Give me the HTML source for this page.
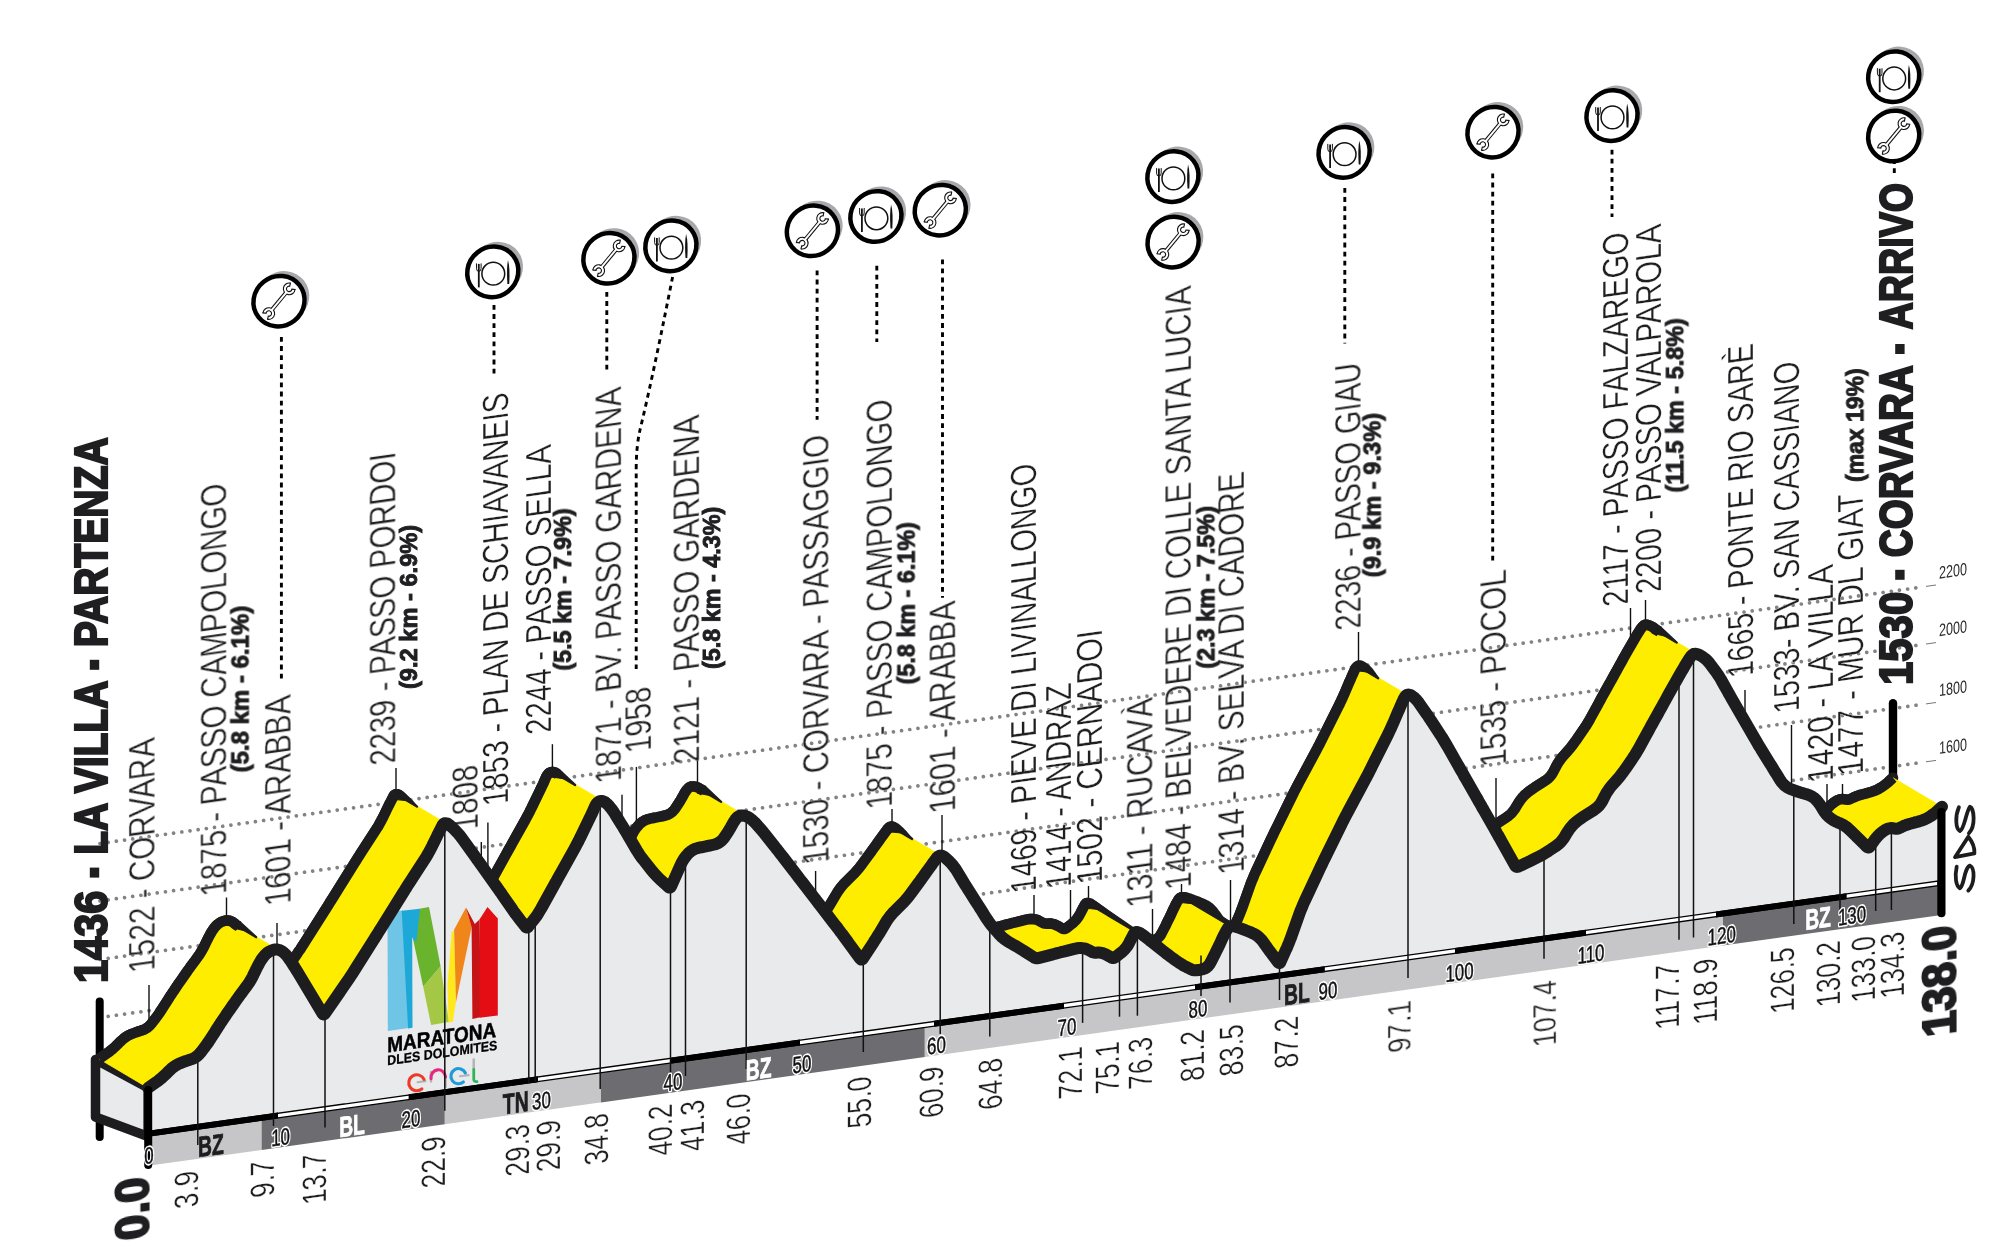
<!DOCTYPE html>
<html><head><meta charset="utf-8"><title>Maratona dles Dolomites</title>
<style>html,body{margin:0;padding:0;background:#fff}svg{display:block}text{font-family:"Liberation Sans",sans-serif}</style>
</head><body>
<svg width="2016" height="1260" viewBox="0 0 2016 1260">
<defs><filter id="nf" x="-5%" y="-5%" width="110%" height="110%"><feOffset dx="0" dy="0"/></filter></defs>
<rect width="2016" height="1260" fill="#fff"/>
<g stroke="#838385" stroke-width="3.7" stroke-dasharray="0.01 8.25" stroke-linecap="round" fill="none">
<line x1="100" y1="1017.5" x2="1922" y2="762.4"/>
<line x1="100" y1="959.5" x2="1922" y2="704.4"/>
<line x1="100" y1="901.0" x2="1922" y2="644.6"/>
<line x1="100" y1="843.5" x2="1922" y2="587.0"/>
</g>
<g stroke="#777" stroke-width="1" fill="none">
<line x1="1926" y1="761.8" x2="1936" y2="760.4"/>
<line x1="1926" y1="703.9" x2="1936" y2="702.5"/>
<line x1="1926" y1="644.0" x2="1936" y2="642.6"/>
<line x1="1926" y1="586.4" x2="1936" y2="585.0"/>
</g>
<g filter="url(#nf)">
<text transform="translate(1939,754.1) skewY(-8) scale(0.72,1)" font-size="17.5" fill="#2a2a2a">1600</text>
<text transform="translate(1939,696.2) skewY(-8) scale(0.72,1)" font-size="17.5" fill="#2a2a2a">1800</text>
<text transform="translate(1939,636.3) skewY(-8) scale(0.72,1)" font-size="17.5" fill="#2a2a2a">2000</text>
<text transform="translate(1939,578.7) skewY(-8) scale(0.72,1)" font-size="17.5" fill="#2a2a2a">2200</text>
</g>
<line x1="99.7" y1="1001.5" x2="99.7" y2="1137" stroke="#000" stroke-width="8" stroke-linecap="round"/>
<line x1="1893" y1="703.3" x2="1893" y2="780" stroke="#000" stroke-width="8.4" stroke-linecap="round"/>
<g stroke="#111" stroke-width="1.4" fill="none">
<line x1="149.0" y1="985.0" x2="149.0" y2="1026.9"/>
<line x1="226.5" y1="897.5" x2="226.5" y2="920.5"/>
<line x1="277.0" y1="923.0" x2="277.0" y2="983.2"/>
<line x1="396.0" y1="768.0" x2="396.0" y2="791.5"/>
<line x1="481.3" y1="842.0" x2="481.3" y2="895.2"/>
<line x1="487.9" y1="822.6" x2="487.9" y2="886.7"/>
<line x1="552.4" y1="744.2" x2="552.4" y2="771.9"/>
<line x1="622.0" y1="794.7" x2="622.0" y2="857.6"/>
<line x1="636.4" y1="766.9" x2="636.4" y2="827.5"/>
<line x1="697.5" y1="757.6" x2="697.5" y2="787.4"/>
<line x1="815.6" y1="871.0" x2="815.6" y2="927.0"/>
<line x1="892.0" y1="809.0" x2="892.0" y2="824.5"/>
<line x1="942.0" y1="815.0" x2="942.0" y2="895.9"/>
<line x1="1034.0" y1="895.0" x2="1034.0" y2="918.1"/>
<line x1="1070.5" y1="890.0" x2="1070.5" y2="924.9"/>
<line x1="1088.5" y1="886.0" x2="1088.5" y2="902.0"/>
<line x1="1152.5" y1="909.0" x2="1152.5" y2="940.5"/>
<line x1="1181.5" y1="884.0" x2="1181.5" y2="895.6"/>
<line x1="1230.5" y1="880.0" x2="1230.5" y2="935.2"/>
<line x1="1358.5" y1="632.0" x2="1358.5" y2="664.0"/>
<line x1="1496.0" y1="778.0" x2="1496.0" y2="824.4"/>
<line x1="1630.5" y1="608.0" x2="1630.5" y2="646.1"/>
<line x1="1645.5" y1="600.0" x2="1645.5" y2="624.0"/>
<line x1="1745.0" y1="690.0" x2="1745.0" y2="761.4"/>
<line x1="1791.5" y1="725.0" x2="1791.5" y2="794.5"/>
<line x1="1827.0" y1="784.0" x2="1827.0" y2="808.9"/>
<line x1="1842.5" y1="784.0" x2="1842.5" y2="799.0"/>
</g>
<g font-size="36.3" fill="#1d1d1f" stroke="#fff" stroke-width="0.3" opacity="0.99">
<text transform="translate(155.0,970.3) skewY(-7.97) rotate(-90)" textLength="233.6" lengthAdjust="spacingAndGlyphs">1522 - CORVARA</text>
<text transform="translate(226.7,893.8) skewY(-7.97) rotate(-90)" textLength="411.8" lengthAdjust="spacingAndGlyphs">1875 - PASSO CAMPOLONGO</text>
<text transform="translate(291.0,903.3) skewY(-7.97) rotate(-90)" textLength="209.5" lengthAdjust="spacingAndGlyphs">1601 - ARABBA</text>
<text transform="translate(395.7,762.9) skewY(-7.97) rotate(-90)" textLength="311.9" lengthAdjust="spacingAndGlyphs">2239 - PASSO PORDOI</text>
<text transform="translate(478.2,829.0) skewY(-7.97) rotate(-90)" textLength="65.2" lengthAdjust="spacingAndGlyphs">1808</text>
<text transform="translate(507.5,803.5) skewY(-7.97) rotate(-90)" textLength="412.1" lengthAdjust="spacingAndGlyphs">1853 - PLAN DE SCHIAVANEIS</text>
<text transform="translate(550.5,732.3) skewY(-7.97) rotate(-90)" textLength="288.5" lengthAdjust="spacingAndGlyphs">2244 - PASSO SELLA</text>
<text transform="translate(621.5,781.0) skewY(-7.97) rotate(-90)" textLength="395.0" lengthAdjust="spacingAndGlyphs">1871 - BV. PASSO GARDENA</text>
<text transform="translate(651.4,750.5) skewY(-7.97) rotate(-90)" textLength="65.0" lengthAdjust="spacingAndGlyphs">1958</text>
<text transform="translate(699.5,761.5) skewY(-7.97) rotate(-90)" textLength="347.5" lengthAdjust="spacingAndGlyphs">2121 - PASSO GARDENA</text>
<text transform="translate(828.9,862.2) skewY(-7.97) rotate(-90)" textLength="428.9" lengthAdjust="spacingAndGlyphs">1530 - CORVARA - PASSAGGIO</text>
<text transform="translate(892.4,806.7) skewY(-7.97) rotate(-90)" textLength="408.9" lengthAdjust="spacingAndGlyphs">1875 - PASSO CAMPOLONGO</text>
<text transform="translate(955.6,811.0) skewY(-7.97) rotate(-90)" textLength="211.0" lengthAdjust="spacingAndGlyphs">1601 - ARABBA</text>
<text transform="translate(1036.4,891.0) skewY(-7.97) rotate(-90)" textLength="428.8" lengthAdjust="spacingAndGlyphs">1469 - PIEVE DI LIVINALLONGO</text>
<text transform="translate(1071.3,886.7) skewY(-7.97) rotate(-90)" textLength="204.7" lengthAdjust="spacingAndGlyphs">1414 - ANDRAZ</text>
<text transform="translate(1102.0,882.0) skewY(-7.97) rotate(-90)" textLength="254.0" lengthAdjust="spacingAndGlyphs">1502 - CERNADOI</text>
<text transform="translate(1152.8,905.0) skewY(-7.97) rotate(-90)" textLength="208.3" lengthAdjust="spacingAndGlyphs">1311 - RUCAVÀ</text>
<text transform="translate(1191.4,887.2) skewY(-7.97) rotate(-90)" textLength="602.2" lengthAdjust="spacingAndGlyphs">1484 - BELVEDERE DI COLLE SANTA LUCIA</text>
<text transform="translate(1244.3,872.0) skewY(-7.97) rotate(-90)" textLength="401.5" lengthAdjust="spacingAndGlyphs">1314 - BV. SELVA DI CADORE</text>
<text transform="translate(1361.0,628.0) skewY(-7.97) rotate(-90)" textLength="266.7" lengthAdjust="spacingAndGlyphs">2236 - PASSO GIAU</text>
<text transform="translate(1506.4,764.3) skewY(-7.97) rotate(-90)" textLength="195.6" lengthAdjust="spacingAndGlyphs">1535 - POCOL</text>
<text transform="translate(1628.3,604.3) skewY(-7.97) rotate(-90)" textLength="373.5" lengthAdjust="spacingAndGlyphs">2117 - PASSO FALZAREGO</text>
<text transform="translate(1661.4,591.6) skewY(-7.97) rotate(-90)" textLength="368.4" lengthAdjust="spacingAndGlyphs">2200 - PASSO VALPAROLA</text>
<text transform="translate(1752.8,675.4) skewY(-7.97) rotate(-90)" textLength="332.8" lengthAdjust="spacingAndGlyphs">1665 - PONTE RIO SARÈ</text>
<text transform="translate(1798.6,711.0) skewY(-7.97) rotate(-90)" textLength="351.0" lengthAdjust="spacingAndGlyphs">1533- BV. SAN CASSIANO</text>
<text transform="translate(1832.7,780.8) skewY(-7.97) rotate(-90)" textLength="217.2" lengthAdjust="spacingAndGlyphs">1420 - LA VILLA</text>
<text transform="translate(1862.9,773.2) skewY(-7.97) rotate(-90)" textLength="281.9" lengthAdjust="spacingAndGlyphs">1477 - MUR DL GIAT</text>
</g>
<g font-size="23" font-weight="bold" fill="#1d1d1f" stroke="#1d1d1f" stroke-width="0.9" opacity="0.99">
<text transform="translate(248.5,772.4) rotate(-90)" textLength="166.7" lengthAdjust="spacingAndGlyphs">(5.8 km - 6.1%)</text>
<text transform="translate(417.0,689.0) rotate(-90)" textLength="164.2" lengthAdjust="spacingAndGlyphs">(9.2 km - 6.9%)</text>
<text transform="translate(571.0,670.6) rotate(-90)" textLength="162.3" lengthAdjust="spacingAndGlyphs">(5.5 km - 7.9%)</text>
<text transform="translate(720.0,669.0) rotate(-90)" textLength="162.4" lengthAdjust="spacingAndGlyphs">(5.8 km - 4.3%)</text>
<text transform="translate(914.6,684.4) rotate(-90)" textLength="162.2" lengthAdjust="spacingAndGlyphs">(5.8 km - 6.1%)</text>
<text transform="translate(1214.3,668.7) rotate(-90)" textLength="162.7" lengthAdjust="spacingAndGlyphs">(2.3 km - 7.5%)</text>
<text transform="translate(1380.5,577.3) rotate(-90)" textLength="164.3" lengthAdjust="spacingAndGlyphs">(9.9 km - 9.3%)</text>
<text transform="translate(1683.2,492.5) rotate(-90)" textLength="174.3" lengthAdjust="spacingAndGlyphs">(11.5 km - 5.8%)</text>
<text transform="translate(1863.3,482.0) rotate(-90)" textLength="113.7" lengthAdjust="spacingAndGlyphs">(max 19%)</text>
</g>
<polyline points="99.1,1058.9 106.9,1053.4 108.8,1052.1 110.6,1050.6 112.4,1049.2 114.2,1047.6 115.9,1046.1 117.5,1044.5 120.4,1041.6 122.0,1040.1 123.7,1038.6 125.5,1037.3 127.2,1036.2 129.0,1035.2 130.9,1034.3 130.9,1034.3 132.7,1033.6 134.6,1032.9 136.4,1032.2 138.2,1031.6 140.1,1031.0 141.9,1030.4 141.9,1030.4 143.8,1029.8 145.5,1028.9 147.2,1027.8 148.8,1026.5 150.3,1025.0 151.8,1023.3 154.3,1020.0 155.7,1018.2 157.1,1016.3 158.5,1014.4 159.8,1012.5 161.1,1010.5 162.3,1008.6 166.0,1002.9 167.2,1000.9 168.5,999.0 169.7,997.0 171.0,995.1 172.3,993.1 173.6,991.2 175.4,988.5 176.7,986.6 178.0,984.6 179.3,982.7 180.7,980.8 182.0,978.9 183.3,977.0 186.4,972.6 187.7,970.7 189.1,968.8 190.4,966.9 191.8,965.0 193.2,963.2 194.6,961.3 197.3,957.6 198.7,955.7 200.0,953.8 201.2,951.8 202.4,949.8 203.5,947.8 204.5,945.7 206.4,941.8 207.4,939.7 208.4,937.8 209.4,935.9 210.4,934.0 211.4,932.3 212.4,930.6 212.4,930.6 213.5,929.1 214.5,927.7 215.6,926.5 216.6,925.3 217.7,924.4 218.8,923.5 218.8,923.5 219.8,922.8 220.9,922.2 222.1,921.7 223.2,921.3 224.3,920.9 225.5,920.6 225.5,920.6 226.7,920.5 227.8,920.5 229.0,920.7 230.2,921.0 231.3,921.4 232.5,922.0 232.5,922.0 233.7,922.8 234.8,923.7 236.0,924.8 237.2,926.0 238.3,927.4 239.5,929.0 239.5,929.0 240.7,930.7 241.9,932.4 243.0,934.2 244.2,936.1 245.5,938.0 246.7,940.0 247.3,941.0 248.6,943.0 249.8,945.0 251.0,947.0 252.2,949.0 253.4,951.0 254.6,953.0 273.4,984.4 273.8,985.0 274.3,985.3 274.7,985.4 275.2,985.3 275.6,985.0 276.1,984.4 297.6,953.2 298.9,951.2 300.3,949.3 301.5,947.4 302.8,945.4 304.1,943.4 305.3,941.5 325.3,909.9 326.5,907.9 327.8,906.0 329.0,904.0 330.2,902.0 331.5,900.0 332.7,898.1 354.3,863.5 355.5,861.6 356.8,859.6 358.0,857.6 359.3,855.6 360.5,853.7 361.8,851.7 376.2,829.4 377.5,827.4 378.7,825.4 379.8,823.4 380.9,821.4 382.0,819.3 383.1,817.2 387.9,807.3 388.9,805.2 389.9,803.3 390.9,801.4 391.8,799.6 392.7,797.9 393.5,796.2 393.5,796.2 394.4,795.0 395.6,794.3 396.9,794.2 398.5,794.6 400.2,795.7 402.1,797.4 404.3,799.5 406.0,801.1 407.6,802.8 409.2,804.5 410.7,806.3 412.1,808.1 413.5,810.0 425.2,826.3 426.6,828.2 427.9,830.1 429.3,832.0 430.7,833.9 432.0,835.8 433.4,837.7 445.0,854.1 446.4,856.0 447.7,857.9 449.1,859.8 450.4,861.7 451.8,863.6 453.1,865.6 463.0,879.8 464.3,881.8 465.7,883.7 467.1,885.5 468.5,887.4 469.9,889.3 471.3,891.1 476.4,897.5 476.9,898.1 477.4,898.4 477.9,898.5 478.4,898.4 478.9,898.1 479.4,897.5 484.5,891.1 485.9,889.3 487.3,887.4 488.6,885.4 489.8,883.5 491.0,881.5 492.2,879.5 505.2,856.0 506.3,854.0 507.5,851.9 508.6,849.9 509.7,847.9 510.9,845.8 512.0,843.8 525.1,820.3 526.2,818.3 527.3,816.2 528.4,814.2 529.5,812.1 530.5,810.0 531.6,807.9 539.9,790.7 540.9,788.6 541.9,786.5 542.9,784.5 543.8,782.5 544.7,780.4 545.5,778.5 545.5,778.5 546.4,776.6 547.3,775.1 548.2,773.9 549.3,772.9 550.4,772.3 551.5,772.0 551.5,772.0 552.7,772.0 553.9,772.2 555.1,772.6 556.3,773.3 557.5,774.3 558.8,775.5 558.8,775.5 560.1,776.9 561.3,778.4 562.6,780.0 563.8,781.7 565.0,783.5 566.3,785.5 572.8,796.1 574.1,798.1 575.3,800.1 576.5,802.1 577.7,804.1 578.8,806.1 580.0,808.1 586.9,819.9 588.1,821.9 589.3,823.8 590.6,825.8 591.9,827.7 593.3,829.5 594.8,831.4 601.8,840.3 603.3,842.1 604.8,843.9 606.4,845.6 608.0,847.3 609.6,849.0 611.3,850.6 619.3,857.9 619.9,858.4 620.4,858.6 620.9,858.6 621.3,858.4 621.8,858.0 622.1,857.3 631.6,836.0 632.6,833.9 633.7,831.9 634.9,830.0 636.2,828.1 637.6,826.4 639.1,824.7 639.1,824.7 640.7,823.2 642.5,821.8 644.3,820.7 646.3,819.8 648.5,819.1 650.7,818.5 652.3,818.3 654.6,817.8 656.8,817.4 659.0,816.9 661.2,816.5 663.3,816.0 665.4,815.5 665.4,815.5 667.4,814.9 669.3,814.0 671.0,812.9 672.6,811.6 674.1,810.0 675.5,808.2 676.6,806.5 677.9,804.6 679.1,802.7 680.3,800.8 681.4,798.9 682.5,797.0 683.5,795.1 683.5,795.1 684.5,793.3 685.5,791.8 686.4,790.4 687.4,789.3 688.3,788.3 689.2,787.5 689.2,787.5 690.2,787.0 691.3,786.6 692.4,786.5 693.7,786.5 695.0,786.7 696.5,787.0 696.5,787.0 698.0,787.6 699.5,788.4 701.1,789.4 702.6,790.6 704.2,792.0 705.8,793.6 706.2,793.9 707.8,795.6 709.3,797.4 710.9,799.1 712.4,800.9 713.9,802.7 715.4,804.5 724.9,816.5 726.4,818.4 727.8,820.2 729.3,822.0 730.7,823.9 732.1,825.7 733.6,827.5 744.8,842.2 746.3,844.0 747.7,845.9 749.1,847.7 750.5,849.6 751.9,851.4 753.4,853.3 764.6,867.9 766.1,869.8 767.5,871.6 768.9,873.5 770.3,875.3 771.8,877.2 773.2,879.0 784.5,893.8 785.9,895.6 787.4,897.5 788.8,899.3 790.2,901.2 791.6,903.1 793.0,904.9 811.1,929.6 811.6,930.1 812.1,930.5 812.6,930.6 813.0,930.4 813.5,930.1 814.0,929.5 824.7,913.2 825.9,911.2 827.2,909.2 828.4,907.3 829.7,905.3 830.9,903.3 832.1,901.3 836.8,893.4 838.0,891.4 839.4,889.5 840.7,887.7 842.2,885.9 843.7,884.1 845.3,882.5 853.3,874.5 854.9,872.9 856.5,871.2 858.0,869.4 859.5,867.6 860.9,865.8 862.3,863.9 870.0,853.4 871.4,851.5 872.7,849.6 874.1,847.7 875.5,845.8 876.8,843.9 878.2,842.0 879.9,839.6 881.3,837.7 882.6,835.9 883.9,834.1 885.2,832.3 886.5,830.6 887.7,828.9 887.7,828.9 889.0,827.5 890.4,826.8 892.0,826.6 893.7,827.1 895.6,828.1 897.5,829.8 899.5,831.7 901.2,833.3 902.8,835.0 904.2,836.8 905.6,838.6 907.0,840.5 908.2,842.5 912.9,850.3 914.1,852.3 915.3,854.3 916.5,856.3 917.8,858.3 919.0,860.2 920.3,862.2 926.6,872.2 927.9,874.2 929.1,876.1 930.4,878.1 931.6,880.1 932.9,882.1 934.1,884.0 936.6,888.1 937.9,890.0 939.2,891.9 940.5,893.8 941.9,895.7 943.4,897.5 944.9,899.3 949.6,904.6 951.2,906.3 952.8,907.9 954.6,909.4 956.4,910.8 958.3,912.1 960.3,913.3 963.9,915.4 965.9,916.5 967.9,917.7 969.9,918.9 971.9,920.1 973.9,921.3 975.9,922.6 984.8,928.3 985.5,928.7 986.2,929.0 987.0,929.2 987.7,929.3 988.5,929.2 989.3,929.1 1002.9,925.6 1005.2,925.0 1007.4,924.4 1009.7,923.8 1012.0,923.2 1014.2,922.7 1016.5,922.1 1025.3,919.9 1027.9,919.3 1030.4,919.1 1032.8,919.1 1035.0,919.4 1037.1,919.9 1039.0,920.8 1042.3,922.6 1043.0,923.0 1043.8,923.3 1044.6,923.5 1045.4,923.6 1046.2,923.7 1047.0,923.7 1049.0,923.6 1050.5,923.6 1052.0,923.8 1053.7,924.2 1055.3,924.8 1057.1,925.6 1058.8,926.5 1062.1,928.4 1062.9,928.8 1063.6,929.0 1064.3,929.0 1064.9,928.9 1065.6,928.6 1066.3,928.2 1071.6,924.1 1073.4,922.6 1075.1,921.0 1076.5,919.4 1077.9,917.6 1079.1,915.8 1080.2,913.8 1080.2,913.8 1081.1,911.9 1082.0,910.2 1082.9,908.5 1083.7,907.0 1084.4,905.7 1085.1,904.5 1085.1,904.5 1085.9,903.5 1086.9,903.0 1088.1,903.0 1089.5,903.4 1091.2,904.2 1093.0,905.5 1093.4,905.7 1095.3,907.1 1097.1,908.5 1099.0,909.9 1100.8,911.4 1102.6,912.8 1104.5,914.3 1113.4,921.4 1115.3,922.9 1117.1,924.3 1119.0,925.7 1120.8,927.1 1122.7,928.5 1124.6,929.9 1127.0,931.6 1128.9,932.9 1130.8,934.2 1132.8,935.4 1134.7,936.6 1136.7,937.6 1138.7,938.7 1142.5,940.5 1143.2,940.8 1144.0,941.1 1144.8,941.2 1145.6,941.3 1146.4,941.3 1147.2,941.3 1151.6,940.7 1153.8,940.2 1155.8,939.4 1157.6,938.4 1159.1,937.0 1160.5,935.4 1161.6,933.4 1165.4,926.1 1166.4,924.0 1167.4,921.9 1168.5,919.8 1169.5,917.7 1170.5,915.6 1171.5,913.5 1173.4,909.3 1174.4,907.3 1175.3,905.4 1176.3,903.6 1177.1,902.0 1178.0,900.6 1178.8,899.2 1178.8,899.2 1179.8,898.2 1181.0,897.5 1182.6,897.2 1184.5,897.2 1186.7,897.7 1189.2,898.5 1194.2,900.4 1196.4,901.2 1198.4,902.0 1200.4,902.8 1202.2,903.6 1204.0,904.4 1205.6,905.2 1205.6,905.2 1207.2,906.1 1208.7,907.2 1210.2,908.4 1211.7,909.9 1213.1,911.5 1214.4,913.3 1215.0,914.1 1216.3,916.0 1217.7,917.9 1219.0,919.8 1220.4,921.7 1221.8,923.5 1223.2,925.4 1229.0,933.2 1229.5,933.7 1229.9,934.1 1230.4,934.1 1230.8,934.0 1231.2,933.6 1231.5,932.9 1237.1,920.4 1238.1,918.3 1239.0,916.1 1239.9,913.9 1240.7,911.8 1241.6,909.6 1242.4,907.4 1250.6,884.3 1251.4,882.1 1252.3,879.9 1253.2,877.8 1254.1,875.6 1255.0,873.5 1256.0,871.4 1271.0,839.3 1272.0,837.2 1273.0,835.1 1274.0,833.0 1275.0,830.9 1276.1,828.8 1277.1,826.7 1292.6,795.1 1293.6,793.0 1294.7,790.9 1295.8,788.8 1296.8,786.8 1297.9,784.7 1299.0,782.6 1316.4,750.2 1317.5,748.1 1318.6,746.0 1319.7,744.0 1320.7,741.9 1321.8,739.8 1322.8,737.7 1338.6,706.2 1339.6,704.1 1340.6,702.0 1341.6,699.9 1342.6,697.7 1343.5,695.6 1344.5,693.5 1349.2,682.4 1350.2,680.3 1351.1,678.2 1352.0,676.0 1353.0,673.9 1353.9,671.8 1354.8,669.8 1354.8,669.8 1355.9,667.9 1357.0,666.6 1358.2,665.8 1359.4,665.5 1360.8,665.8 1362.3,666.5 1362.3,666.5 1363.9,667.6 1365.4,668.8 1366.8,670.2 1368.2,671.7 1369.6,673.4 1370.9,675.3 1377.1,684.2 1378.4,686.1 1379.7,688.1 1381.0,690.0 1382.3,692.0 1383.6,693.9 1384.8,695.8 1391.0,705.2 1392.2,707.1 1393.5,709.1 1394.7,711.1 1395.9,713.1 1397.1,715.1 1398.3,717.1 1409.5,736.9 1410.7,738.9 1411.8,741.0 1413.0,743.0 1414.2,745.0 1415.3,747.1 1416.5,749.1 1427.5,768.4 1428.7,770.4 1429.8,772.5 1431.0,774.5 1432.2,776.5 1433.3,778.6 1434.5,780.6 1445.5,799.9 1446.7,801.9 1447.8,804.0 1449.0,806.0 1450.1,808.0 1451.3,810.1 1452.4,812.1 1466.0,836.4 1466.4,837.1 1466.9,837.5 1467.5,837.8 1468.1,837.9 1468.7,837.8 1469.5,837.6 1471.0,836.9 1472.3,836.3 1473.7,835.6 1475.3,834.8 1477.1,834.0 1478.9,833.1 1481.0,832.1 1488.3,828.4 1490.4,827.4 1492.5,826.3 1494.5,825.1 1496.5,823.9 1498.5,822.7 1500.4,821.4 1506.6,817.3 1508.5,815.9 1510.2,814.5 1511.8,812.9 1513.3,811.1 1514.7,809.3 1515.9,807.3 1516.9,805.6 1518.1,803.6 1519.3,801.8 1520.5,800.0 1521.8,798.4 1523.0,796.9 1524.3,795.6 1524.3,795.5 1525.7,794.2 1527.2,792.9 1528.8,791.6 1530.5,790.4 1532.3,789.1 1534.2,787.8 1544.8,781.1 1546.7,779.7 1548.4,778.3 1550.0,776.7 1551.4,774.9 1552.7,773.0 1553.8,771.0 1555.4,767.8 1556.5,765.7 1557.6,763.7 1558.9,761.8 1560.2,759.9 1561.6,758.0 1563.1,756.2 1567.9,750.9 1569.4,749.1 1570.9,747.3 1572.3,745.5 1573.7,743.6 1575.1,741.7 1576.5,739.8 1583.5,729.6 1584.8,727.6 1586.1,725.7 1587.3,723.7 1588.5,721.7 1589.7,719.7 1590.8,717.6 1598.2,704.2 1599.3,702.1 1600.4,700.1 1601.5,698.0 1602.6,696.0 1603.8,693.9 1604.9,691.9 1609.2,684.2 1610.3,682.2 1611.5,680.1 1612.6,678.1 1613.7,676.1 1614.8,674.0 1616.0,672.0 1620.1,664.4 1621.3,662.4 1622.4,660.4 1623.5,658.3 1624.7,656.3 1625.8,654.3 1627.0,652.2 1632.5,642.6 1633.7,640.6 1634.8,638.7 1635.8,636.9 1636.8,635.2 1637.8,633.5 1638.8,632.0 1638.8,632.0 1639.7,630.6 1640.5,629.3 1641.4,628.1 1642.2,627.1 1643.0,626.3 1643.8,625.5 1643.8,625.5 1644.6,625.0 1645.6,624.8 1646.8,624.8 1648.2,625.1 1649.8,625.7 1651.5,626.5 1651.5,626.5 1653.3,627.6 1655.0,628.8 1656.7,630.2 1658.3,631.7 1659.8,633.3 1661.2,635.1 1665.5,640.8 1666.9,642.7 1668.2,644.6 1669.5,646.5 1670.8,648.5 1672.0,650.5 1673.1,652.5 1676.3,658.2 1677.4,660.2 1678.6,662.3 1679.7,664.3 1680.9,666.3 1682.0,668.3 1683.2,670.4 1705.9,709.7 1707.1,711.8 1708.3,713.8 1709.4,715.8 1710.6,717.8 1711.9,719.8 1713.1,721.8 1721.6,735.6 1722.9,737.6 1724.1,739.6 1725.3,741.6 1726.5,743.6 1727.8,745.6 1729.0,747.5 1731.5,751.6 1732.8,753.4 1734.3,755.1 1735.9,756.7 1737.7,758.0 1739.6,759.1 1741.7,760.1 1742.6,760.4 1744.8,761.3 1747.0,762.0 1749.2,762.8 1751.4,763.5 1753.6,764.1 1755.8,764.8 1755.8,764.8 1758.0,765.4 1760.0,766.1 1761.8,766.9 1763.4,767.8 1764.8,768.7 1766.1,769.8 1766.1,769.8 1767.3,771.0 1768.4,772.3 1769.6,773.8 1770.8,775.4 1771.9,777.2 1773.1,779.2 1773.1,779.2 1774.3,781.2 1775.5,783.0 1776.8,784.7 1778.1,786.2 1779.5,787.6 1780.9,788.8 1780.9,788.8 1782.4,789.9 1784.0,791.0 1785.5,791.9 1787.2,792.7 1788.8,793.5 1790.5,794.1 1790.5,794.1 1792.3,794.9 1794.0,795.7 1795.7,796.8 1797.4,798.0 1799.1,799.4 1800.8,800.9 1804.7,804.8 1806.4,806.4 1808.0,808.1 1809.7,809.7 1811.3,811.3 1813.0,813.0 1814.6,814.6 1817.7,817.7 1818.3,818.2 1818.9,818.5 1819.4,818.5 1819.9,818.4 1820.5,818.0 1820.9,817.5 1824.9,811.9 1826.2,810.1 1827.7,808.3 1829.2,806.7 1830.8,805.1 1832.4,803.7 1834.2,802.3 1834.2,802.3 1835.9,801.1 1837.6,800.2 1839.2,799.6 1840.8,799.2 1842.3,799.1 1843.8,799.2 1845.7,799.6 1846.6,799.7 1847.4,799.8 1848.1,799.7 1848.9,799.6 1849.7,799.3 1850.4,799.0 1852.6,798.0 1854.0,797.3 1855.6,796.6 1857.1,796.0 1858.8,795.4 1860.4,794.9 1862.2,794.5 1862.2,794.5 1863.9,794.0 1865.6,793.6 1867.2,793.1 1868.8,792.7 1870.3,792.2 1871.8,791.8 1871.8,791.8 1873.2,791.3 1874.7,790.8 1876.1,790.2 1877.5,789.5 1879.0,788.7 1880.4,787.9 1880.4,787.9 1881.9,787.0 1883.3,786.0 1884.7,785.0 1886.1,783.9 1887.5,782.8 1888.9,781.5 1893.0,777.8" fill="none" stroke="#1d1d1f" stroke-width="10.6" stroke-linejoin="round" stroke-linecap="round"/>
<polygon points="148.1,1087.9 95.5,1059.5 95.5,1117.0 148.1,1136.5" fill="#e9eaec" stroke="#1d1d1f" stroke-width="9.5" stroke-linejoin="round"/>
<polygon points="148.1,1087.9 155.9,1082.4 157.8,1081.1 159.6,1079.6 161.4,1078.2 163.2,1076.6 164.9,1075.1 166.5,1073.5 169.4,1070.6 171.0,1069.1 172.7,1067.6 174.5,1066.3 176.2,1065.2 178.0,1064.2 179.9,1063.3 179.9,1063.3 181.7,1062.6 183.6,1061.9 185.4,1061.2 187.2,1060.6 189.1,1060.0 190.9,1059.4 190.9,1059.4 192.8,1058.8 194.5,1057.9 196.2,1056.8 197.8,1055.5 199.3,1054.0 200.8,1052.3 203.3,1049.0 204.7,1047.2 206.1,1045.3 207.5,1043.4 208.8,1041.5 210.1,1039.5 211.3,1037.6 215.0,1031.9 216.2,1029.9 217.5,1028.0 218.7,1026.0 220.0,1024.1 221.3,1022.1 222.6,1020.2 224.4,1017.5 225.7,1015.6 227.0,1013.6 228.3,1011.7 229.7,1009.8 231.0,1007.9 232.3,1006.0 235.4,1001.6 236.7,999.7 238.1,997.8 239.4,995.9 240.8,994.0 242.2,992.2 243.6,990.3 246.3,986.6 247.7,984.7 249.0,982.8 250.2,980.8 251.4,978.8 252.5,976.8 253.5,974.7 255.4,970.8 256.4,968.7 257.4,966.8 258.4,964.9 259.4,963.0 260.4,961.3 261.4,959.6 261.4,959.6 262.5,958.1 263.5,956.7 264.6,955.5 265.6,954.3 266.7,953.4 267.8,952.5 267.8,952.5 268.8,951.8 269.9,951.2 271.1,950.7 272.2,950.3 273.3,949.9 274.5,949.6 274.5,949.6 275.7,949.5 276.8,949.5 278.0,949.7 279.2,950.0 280.3,950.4 281.5,951.0 281.5,951.0 282.7,951.8 283.8,952.7 285.0,953.8 236.0,924.8 234.8,923.7 233.7,922.8 232.5,922.0 232.5,922.0 231.3,921.4 230.2,921.0 229.0,920.7 227.8,920.5 226.7,920.5 225.5,920.6 225.5,920.6 224.3,920.9 223.2,921.3 222.1,921.7 220.9,922.2 219.8,922.8 218.8,923.5 218.8,923.5 217.7,924.4 216.6,925.3 215.6,926.5 214.5,927.7 213.5,929.1 212.4,930.6 212.4,930.6 211.4,932.3 210.4,934.0 209.4,935.9 208.4,937.8 207.4,939.7 206.4,941.8 204.5,945.7 203.5,947.8 202.4,949.8 201.2,951.8 200.0,953.8 198.7,955.7 197.3,957.6 194.6,961.3 193.2,963.2 191.8,965.0 190.4,966.9 189.1,968.8 187.7,970.7 186.4,972.6 183.3,977.0 182.0,978.9 180.7,980.8 179.3,982.7 178.0,984.6 176.7,986.6 175.4,988.5 173.6,991.2 172.3,993.1 171.0,995.1 169.7,997.0 168.5,999.0 167.2,1000.9 166.0,1002.9 162.3,1008.6 161.1,1010.5 159.8,1012.5 158.5,1014.4 157.1,1016.3 155.7,1018.2 154.3,1020.0 151.8,1023.3 150.3,1025.0 148.8,1026.5 147.2,1027.8 145.5,1028.9 143.8,1029.8 141.9,1030.4 141.9,1030.4 140.1,1031.0 138.2,1031.6 136.4,1032.2 134.6,1032.9 132.7,1033.6 130.9,1034.3 130.9,1034.3 129.0,1035.2 127.2,1036.2 125.5,1037.3 123.7,1038.6 122.0,1040.1 120.4,1041.6 117.5,1044.5 115.9,1046.1 114.2,1047.6 112.4,1049.2 110.6,1050.6 108.8,1052.1 106.9,1053.4 99.1,1058.9" fill="#ffed00" stroke="#ffed00" stroke-width="0.8" stroke-linejoin="round"/>
<polygon points="324.2,1014.3 324.6,1014.0 325.1,1013.4 346.6,982.2 347.9,980.2 349.3,978.3 350.5,976.4 351.8,974.4 353.1,972.4 354.3,970.5 374.3,938.9 375.5,936.9 376.8,935.0 378.0,933.0 379.2,931.0 380.5,929.0 381.7,927.1 403.3,892.5 404.5,890.6 405.8,888.6 407.0,886.6 408.3,884.6 409.5,882.7 410.8,880.7 425.2,858.4 426.5,856.4 427.7,854.4 428.8,852.4 429.9,850.4 431.0,848.3 432.1,846.2 436.9,836.3 437.9,834.2 438.9,832.3 439.9,830.4 440.8,828.6 441.7,826.9 442.5,825.2 442.5,825.2 443.4,824.0 444.6,823.3 445.9,823.2 396.9,794.2 395.6,794.3 394.4,795.0 393.5,796.2 393.5,796.2 392.7,797.9 391.8,799.6 390.9,801.4 389.9,803.3 388.9,805.2 387.9,807.3 383.1,817.2 382.0,819.3 380.9,821.4 379.8,823.4 378.7,825.4 377.5,827.4 376.2,829.4 361.8,851.7 360.5,853.7 359.3,855.6 358.0,857.6 356.8,859.6 355.5,861.6 354.3,863.5 332.7,898.1 331.5,900.0 330.2,902.0 329.0,904.0 327.8,906.0 326.5,907.9 325.3,909.9 305.3,941.5 304.1,943.4 302.8,945.4 301.5,947.4 300.3,949.3 298.9,951.2 297.6,953.2 276.1,984.4 275.6,985.0 275.2,985.3" fill="#ffed00" stroke="#ffed00" stroke-width="0.8" stroke-linejoin="round"/>
<polygon points="527.4,927.4 527.9,927.1 528.4,926.5 533.5,920.1 534.9,918.3 536.3,916.4 537.6,914.4 538.8,912.5 540.0,910.5 541.2,908.5 554.2,885.0 555.3,883.0 556.5,880.9 557.6,878.9 558.7,876.9 559.9,874.8 561.0,872.8 574.1,849.3 575.2,847.3 576.3,845.2 577.4,843.2 578.5,841.1 579.5,839.0 580.6,836.9 588.9,819.7 589.9,817.6 590.9,815.5 591.9,813.5 592.8,811.5 593.7,809.4 594.5,807.5 594.5,807.5 595.4,805.6 596.3,804.1 597.2,802.9 598.3,801.9 599.4,801.3 600.5,801.0 600.5,801.0 601.7,801.0 602.9,801.2 604.1,801.6 555.1,772.6 553.9,772.2 552.7,772.0 551.5,772.0 551.5,772.0 550.4,772.3 549.3,772.9 548.2,773.9 547.3,775.1 546.4,776.6 545.5,778.5 545.5,778.5 544.7,780.4 543.8,782.5 542.9,784.5 541.9,786.5 540.9,788.6 539.9,790.7 531.6,807.9 530.5,810.0 529.5,812.1 528.4,814.2 527.3,816.2 526.2,818.3 525.1,820.3 512.0,843.8 510.9,845.8 509.7,847.9 508.6,849.9 507.5,851.9 506.3,854.0 505.2,856.0 492.2,879.5 491.0,881.5 489.8,883.5 488.6,885.4 487.3,887.4 485.9,889.3 484.5,891.1 479.4,897.5 478.9,898.1 478.4,898.4" fill="#ffed00" stroke="#ffed00" stroke-width="0.8" stroke-linejoin="round"/>
<polygon points="670.3,887.4 670.8,887.0 671.1,886.3 680.6,865.0 681.6,862.9 682.7,860.9 683.9,859.0 685.2,857.1 686.6,855.4 688.1,853.7 688.1,853.7 689.7,852.2 691.5,850.8 693.3,849.7 695.3,848.8 697.5,848.1 699.7,847.5 701.3,847.3 703.6,846.8 705.8,846.4 708.0,845.9 710.2,845.5 712.3,845.0 714.4,844.5 714.4,844.5 716.4,843.9 718.3,843.0 720.0,841.9 721.6,840.6 723.1,839.0 724.5,837.2 725.6,835.5 726.9,833.6 728.1,831.7 729.3,829.8 730.4,827.9 731.5,826.0 732.5,824.1 732.5,824.1 733.5,822.3 734.5,820.8 735.4,819.4 736.4,818.3 737.3,817.3 738.2,816.5 738.2,816.5 739.2,816.0 740.3,815.6 741.4,815.5 742.7,815.5 744.0,815.7 745.5,816.0 745.5,816.0 747.0,816.6 748.5,817.4 750.1,818.4 701.1,789.4 699.5,788.4 698.0,787.6 696.5,787.0 696.5,787.0 695.0,786.7 693.7,786.5 692.4,786.5 691.3,786.6 690.2,787.0 689.2,787.5 689.2,787.5 688.3,788.3 687.4,789.3 686.4,790.4 685.5,791.8 684.5,793.3 683.5,795.1 683.5,795.1 682.5,797.0 681.4,798.9 680.3,800.8 679.1,802.7 677.9,804.6 676.6,806.5 675.5,808.2 674.1,810.0 672.6,811.6 671.0,812.9 669.3,814.0 667.4,814.9 665.4,815.5 665.4,815.5 663.3,816.0 661.2,816.5 659.0,816.9 656.8,817.4 654.6,817.8 652.3,818.3 650.7,818.5 648.5,819.1 646.3,819.8 644.3,820.7 642.5,821.8 640.7,823.2 639.1,824.7 639.1,824.7 637.6,826.4 636.2,828.1 634.9,830.0 633.7,831.9 632.6,833.9 631.6,836.0 622.1,857.3 621.8,858.0 621.3,858.4" fill="#ffed00" stroke="#ffed00" stroke-width="0.8" stroke-linejoin="round"/>
<polygon points="862.0,959.4 862.5,959.1 863.0,958.5 873.7,942.2 874.9,940.2 876.2,938.2 877.4,936.3 878.7,934.3 879.9,932.3 881.1,930.3 885.8,922.4 887.0,920.4 888.4,918.5 889.7,916.7 891.2,914.9 892.7,913.1 894.3,911.5 902.3,903.5 903.9,901.9 905.5,900.2 907.0,898.4 908.5,896.6 909.9,894.8 911.3,892.9 919.0,882.4 920.4,880.5 921.7,878.6 923.1,876.7 924.5,874.8 925.8,872.9 927.2,871.0 928.9,868.6 930.3,866.7 931.6,864.9 932.9,863.1 934.2,861.3 935.5,859.6 936.7,857.9 936.7,857.9 938.0,856.5 939.4,855.8 941.0,855.6 892.0,826.6 890.4,826.8 889.0,827.5 887.7,828.9 887.7,828.9 886.5,830.6 885.2,832.3 883.9,834.1 882.6,835.9 881.3,837.7 879.9,839.6 878.2,842.0 876.8,843.9 875.5,845.8 874.1,847.7 872.7,849.6 871.4,851.5 870.0,853.4 862.3,863.9 860.9,865.8 859.5,867.6 858.0,869.4 856.5,871.2 854.9,872.9 853.3,874.5 845.3,882.5 843.7,884.1 842.2,885.9 840.7,887.7 839.4,889.5 838.0,891.4 836.8,893.4 832.1,901.3 830.9,903.3 829.7,905.3 828.4,907.3 827.2,909.2 825.9,911.2 824.7,913.2 814.0,929.5 813.5,930.1 813.0,930.4" fill="#ffed00" stroke="#ffed00" stroke-width="0.8" stroke-linejoin="round"/>
<polygon points="1005.4,939.8 1007.3,941.1 1009.3,942.3 1012.9,944.4 1014.9,945.5 1016.9,946.7 1018.9,947.9 969.9,918.9 967.9,917.7 965.9,916.5 963.9,915.4 960.3,913.3 958.3,912.1 956.4,910.8" fill="#ffed00" stroke="#ffed00" stroke-width="0.8" stroke-linejoin="round"/>
<polygon points="1036.7,958.3 1037.5,958.2 1038.3,958.1 1051.9,954.6 1054.2,954.0 1056.4,953.4 1058.7,952.8 1061.0,952.2 1063.2,951.7 1065.5,951.1 1074.3,948.9 1076.9,948.3 1079.4,948.1 1081.8,948.1 1084.0,948.4 1086.1,948.9 1088.0,949.8 1091.3,951.6 1092.0,952.0 1092.8,952.3 1093.6,952.5 1094.4,952.6 1095.2,952.7 1096.0,952.7 1098.0,952.6 1099.5,952.6 1101.0,952.8 1102.7,953.2 1104.3,953.8 1106.1,954.6 1107.8,955.5 1111.1,957.4 1111.9,957.8 1112.6,958.0 1113.3,958.0 1113.9,957.9 1114.6,957.6 1115.3,957.2 1120.6,953.1 1122.4,951.6 1124.1,950.0 1125.5,948.4 1126.9,946.6 1128.1,944.8 1129.2,942.8 1129.2,942.8 1130.1,940.9 1131.0,939.2 1131.9,937.5 1132.7,936.0 1133.4,934.7 1134.1,933.5 1134.1,933.5 1134.9,932.5 1135.9,932.0 1137.1,932.0 1088.1,903.0 1086.9,903.0 1085.9,903.5 1085.1,904.5 1085.1,904.5 1084.4,905.7 1083.7,907.0 1082.9,908.5 1082.0,910.2 1081.1,911.9 1080.2,913.8 1080.2,913.8 1079.1,915.8 1077.9,917.6 1076.5,919.4 1075.1,921.0 1073.4,922.6 1071.6,924.1 1066.3,928.2 1065.6,928.6 1064.9,928.9 1064.3,929.0 1063.6,929.0 1062.9,928.8 1062.1,928.4 1058.8,926.5 1057.1,925.6 1055.3,924.8 1053.7,924.2 1052.0,923.8 1050.5,923.6 1049.0,923.6 1047.0,923.7 1046.2,923.7 1045.4,923.6 1044.6,923.5 1043.8,923.3 1043.0,923.0 1042.3,922.6 1039.0,920.8 1037.1,919.9 1035.0,919.4 1032.8,919.1 1030.4,919.1 1027.9,919.3 1025.3,919.9 1016.5,922.1 1014.2,922.7 1012.0,923.2 1009.7,923.8 1007.4,924.4 1005.2,925.0 1002.9,925.6 989.3,929.1 988.5,929.2 987.7,929.3" fill="#ffed00" stroke="#ffed00" stroke-width="0.8" stroke-linejoin="round"/>
<polygon points="1183.7,965.6 1185.7,966.6 1187.7,967.7 1191.5,969.5 1192.2,969.8 1193.0,970.1 1193.8,970.2 1194.6,970.3 1195.4,970.3 1196.2,970.3 1200.6,969.7 1202.8,969.2 1204.8,968.4 1206.6,967.4 1208.1,966.0 1209.5,964.4 1210.6,962.4 1214.4,955.1 1215.4,953.0 1216.4,950.9 1217.5,948.8 1218.5,946.7 1219.5,944.6 1220.5,942.5 1222.4,938.3 1223.4,936.3 1224.3,934.4 1225.3,932.6 1226.1,931.0 1227.0,929.6 1227.8,928.2 1227.8,928.2 1228.8,927.2 1230.0,926.5 1231.6,926.2 1182.6,897.2 1181.0,897.5 1179.8,898.2 1178.8,899.2 1178.8,899.2 1178.0,900.6 1177.1,902.0 1176.3,903.6 1175.3,905.4 1174.4,907.3 1173.4,909.3 1171.5,913.5 1170.5,915.6 1169.5,917.7 1168.5,919.8 1167.4,921.9 1166.4,924.0 1165.4,926.1 1161.6,933.4 1160.5,935.4 1159.1,937.0 1157.6,938.4 1155.8,939.4 1153.8,940.2 1151.6,940.7 1147.2,941.3 1146.4,941.3 1145.6,941.3 1144.8,941.2 1144.0,941.1 1143.2,940.8 1142.5,940.5 1138.7,938.7 1136.7,937.6 1134.7,936.6" fill="#ffed00" stroke="#ffed00" stroke-width="0.8" stroke-linejoin="round"/>
<polygon points="1279.8,963.0 1280.2,962.6 1280.5,961.9 1286.1,949.4 1287.1,947.3 1288.0,945.1 1288.9,942.9 1289.7,940.8 1290.6,938.6 1291.4,936.4 1299.6,913.3 1300.4,911.1 1301.3,908.9 1302.2,906.8 1303.1,904.6 1304.0,902.5 1305.0,900.4 1320.0,868.3 1321.0,866.2 1322.0,864.1 1323.0,862.0 1324.0,859.9 1325.1,857.8 1326.1,855.7 1341.6,824.1 1342.6,822.0 1343.7,819.9 1344.8,817.8 1345.8,815.8 1346.9,813.7 1348.0,811.6 1365.4,779.2 1366.5,777.1 1367.6,775.0 1368.7,773.0 1369.7,770.9 1370.8,768.8 1371.8,766.7 1387.6,735.2 1388.6,733.1 1389.6,731.0 1390.6,728.9 1391.6,726.7 1392.5,724.6 1393.5,722.5 1398.2,711.4 1399.2,709.3 1400.1,707.2 1401.0,705.0 1402.0,702.9 1402.9,700.8 1403.8,698.8 1403.8,698.8 1404.9,696.9 1406.0,695.6 1407.2,694.8 1358.2,665.8 1357.0,666.6 1355.9,667.9 1354.8,669.8 1354.8,669.8 1353.9,671.8 1353.0,673.9 1352.0,676.0 1351.1,678.2 1350.2,680.3 1349.2,682.4 1344.5,693.5 1343.5,695.6 1342.6,697.7 1341.6,699.9 1340.6,702.0 1339.6,704.1 1338.6,706.2 1322.8,737.7 1321.8,739.8 1320.7,741.9 1319.7,744.0 1318.6,746.0 1317.5,748.1 1316.4,750.2 1299.0,782.6 1297.9,784.7 1296.8,786.8 1295.8,788.8 1294.7,790.9 1293.6,793.0 1292.6,795.1 1277.1,826.7 1276.1,828.8 1275.0,830.9 1274.0,833.0 1273.0,835.1 1272.0,837.2 1271.0,839.3 1256.0,871.4 1255.0,873.5 1254.1,875.6 1253.2,877.8 1252.3,879.9 1251.4,882.1 1250.6,884.3 1242.4,907.4 1241.6,909.6 1240.7,911.8 1239.9,913.9 1239.0,916.1 1238.1,918.3 1237.1,920.4 1231.5,932.9 1231.2,933.6 1230.8,934.0" fill="#ffed00" stroke="#ffed00" stroke-width="0.8" stroke-linejoin="round"/>
<polygon points="1517.1,866.9 1517.7,866.8 1518.5,866.6 1520.0,865.9 1521.3,865.3 1522.7,864.6 1524.3,863.8 1526.1,863.0 1527.9,862.1 1530.0,861.1 1537.3,857.4 1539.4,856.4 1541.5,855.3 1543.5,854.1 1545.5,852.9 1547.5,851.7 1549.4,850.4 1555.6,846.3 1557.5,844.9 1559.2,843.5 1560.8,841.9 1562.3,840.1 1563.7,838.3 1564.9,836.3 1565.9,834.6 1567.1,832.6 1568.3,830.8 1569.5,829.0 1570.8,827.4 1572.0,825.9 1573.3,824.6 1573.3,824.5 1574.7,823.2 1576.2,821.9 1577.8,820.6 1579.5,819.4 1581.3,818.1 1583.2,816.8 1593.8,810.1 1595.7,808.7 1597.4,807.3 1599.0,805.7 1600.4,803.9 1601.7,802.0 1602.8,800.0 1604.4,796.8 1605.5,794.7 1606.6,792.7 1607.9,790.8 1609.2,788.9 1610.6,787.0 1612.1,785.2 1616.9,779.9 1618.4,778.1 1619.9,776.3 1621.3,774.5 1622.7,772.6 1624.1,770.7 1625.5,768.8 1632.5,758.6 1633.8,756.6 1635.1,754.7 1636.3,752.7 1637.5,750.7 1638.7,748.7 1639.8,746.6 1647.2,733.2 1648.3,731.1 1649.4,729.1 1650.5,727.0 1651.6,725.0 1652.8,722.9 1653.9,720.9 1658.2,713.2 1659.3,711.2 1660.5,709.1 1661.6,707.1 1662.7,705.1 1663.8,703.0 1665.0,701.0 1669.1,693.4 1670.3,691.4 1671.4,689.4 1672.5,687.3 1673.7,685.3 1674.8,683.3 1676.0,681.2 1681.5,671.6 1682.7,669.6 1683.8,667.7 1684.8,665.9 1685.8,664.2 1686.8,662.5 1687.8,661.0 1687.8,661.0 1688.7,659.6 1689.5,658.3 1690.4,657.1 1691.2,656.1 1692.0,655.3 1692.8,654.5 1692.8,654.5 1693.6,654.0 1694.6,653.8 1695.8,653.8 1697.2,654.1 1698.8,654.7 1700.5,655.5 1700.5,655.5 1702.3,656.6 1704.0,657.8 1705.7,659.2 1656.7,630.2 1655.0,628.8 1653.3,627.6 1651.5,626.5 1651.5,626.5 1649.8,625.7 1648.2,625.1 1646.8,624.8 1645.6,624.8 1644.6,625.0 1643.8,625.5 1643.8,625.5 1643.0,626.3 1642.2,627.1 1641.4,628.1 1640.5,629.3 1639.7,630.6 1638.8,632.0 1638.8,632.0 1637.8,633.5 1636.8,635.2 1635.8,636.9 1634.8,638.7 1633.7,640.6 1632.5,642.6 1627.0,652.2 1625.8,654.3 1624.7,656.3 1623.5,658.3 1622.4,660.4 1621.3,662.4 1620.1,664.4 1616.0,672.0 1614.8,674.0 1613.7,676.1 1612.6,678.1 1611.5,680.1 1610.3,682.2 1609.2,684.2 1604.9,691.9 1603.8,693.9 1602.6,696.0 1601.5,698.0 1600.4,700.1 1599.3,702.1 1598.2,704.2 1590.8,717.6 1589.7,719.7 1588.5,721.7 1587.3,723.7 1586.1,725.7 1584.8,727.6 1583.5,729.6 1576.5,739.8 1575.1,741.7 1573.7,743.6 1572.3,745.5 1570.9,747.3 1569.4,749.1 1567.9,750.9 1563.1,756.2 1561.6,758.0 1560.2,759.9 1558.9,761.8 1557.6,763.7 1556.5,765.7 1555.4,767.8 1553.8,771.0 1552.7,773.0 1551.4,774.9 1550.0,776.7 1548.4,778.3 1546.7,779.7 1544.8,781.1 1534.2,787.8 1532.3,789.1 1530.5,790.4 1528.8,791.6 1527.2,792.9 1525.7,794.2 1524.3,795.5 1524.3,795.6 1523.0,796.9 1521.8,798.4 1520.5,800.0 1519.3,801.8 1518.1,803.6 1516.9,805.6 1515.9,807.3 1514.7,809.3 1513.3,811.1 1511.8,812.9 1510.2,814.5 1508.5,815.9 1506.6,817.3 1500.4,821.4 1498.5,822.7 1496.5,823.9 1494.5,825.1 1492.5,826.3 1490.4,827.4 1488.3,828.4 1481.0,832.1 1478.9,833.1 1477.1,834.0 1475.3,834.8 1473.7,835.6 1472.3,836.3 1471.0,836.9 1469.5,837.6 1468.7,837.8 1468.1,837.9" fill="#ffed00" stroke="#ffed00" stroke-width="0.8" stroke-linejoin="round"/>
<polygon points="1836.2,821.7 1837.8,822.5 1839.5,823.1 1839.5,823.1 1841.3,823.9 1843.0,824.7 1844.7,825.8 1795.7,796.8 1794.0,795.7 1792.3,794.9 1790.5,794.1 1790.5,794.1 1788.8,793.5 1787.2,792.7" fill="#ffed00" stroke="#ffed00" stroke-width="0.8" stroke-linejoin="round"/>
<polygon points="1868.9,847.4 1869.5,847.0 1869.9,846.5 1873.9,840.9 1875.2,839.1 1876.7,837.3 1878.2,835.7 1879.8,834.1 1881.4,832.7 1883.2,831.3 1883.2,831.3 1884.9,830.1 1886.6,829.2 1888.2,828.6 1889.8,828.2 1891.3,828.1 1892.8,828.2 1894.7,828.6 1895.6,828.7 1896.4,828.8 1897.1,828.7 1897.9,828.6 1898.7,828.3 1899.4,828.0 1901.6,827.0 1903.0,826.3 1904.6,825.6 1906.1,825.0 1907.8,824.4 1909.4,823.9 1911.2,823.5 1911.2,823.5 1912.9,823.0 1914.6,822.6 1916.2,822.1 1917.8,821.7 1919.3,821.2 1920.8,820.8 1920.8,820.8 1922.2,820.3 1923.7,819.8 1925.1,819.2 1926.5,818.5 1928.0,817.7 1929.4,816.9 1929.4,816.9 1930.9,816.0 1932.3,815.0 1933.7,814.0 1935.1,812.9 1936.5,811.8 1937.9,810.5 1942.0,806.8 1893.0,777.8 1888.9,781.5 1887.5,782.8 1886.1,783.9 1884.7,785.0 1883.3,786.0 1881.9,787.0 1880.4,787.9 1880.4,787.9 1879.0,788.7 1877.5,789.5 1876.1,790.2 1874.7,790.8 1873.2,791.3 1871.8,791.8 1871.8,791.8 1870.3,792.2 1868.8,792.7 1867.2,793.1 1865.6,793.6 1863.9,794.0 1862.2,794.5 1862.2,794.5 1860.4,794.9 1858.8,795.4 1857.1,796.0 1855.6,796.6 1854.0,797.3 1852.6,798.0 1850.4,799.0 1849.7,799.3 1848.9,799.6 1848.1,799.7 1847.4,799.8 1846.6,799.7 1845.7,799.6 1843.8,799.2 1842.3,799.1 1840.8,799.2 1839.2,799.6 1837.6,800.2 1835.9,801.1 1834.2,802.3 1834.2,802.3 1832.4,803.7 1830.8,805.1 1829.2,806.7 1827.7,808.3 1826.2,810.1 1824.9,811.9 1820.9,817.5 1820.5,818.0 1819.9,818.4" fill="#ffed00" stroke="#ffed00" stroke-width="0.8" stroke-linejoin="round"/>
<polyline points="99.1,1058.9 106.9,1053.4 108.8,1052.1 110.6,1050.6 112.4,1049.2 114.2,1047.6 115.9,1046.1 117.5,1044.5 120.4,1041.6 122.0,1040.1 123.7,1038.6 125.5,1037.3 127.2,1036.2 129.0,1035.2 130.9,1034.3 130.9,1034.3 132.7,1033.6 134.6,1032.9 136.4,1032.2 138.2,1031.6 140.1,1031.0 141.9,1030.4 141.9,1030.4 143.8,1029.8 145.5,1028.9 147.2,1027.8 148.8,1026.5 150.3,1025.0 151.8,1023.3 154.3,1020.0 155.7,1018.2 157.1,1016.3 158.5,1014.4 159.8,1012.5 161.1,1010.5 162.3,1008.6 166.0,1002.9 167.2,1000.9 168.5,999.0 169.7,997.0 171.0,995.1 172.3,993.1 173.6,991.2 175.4,988.5 176.7,986.6 178.0,984.6 179.3,982.7 180.7,980.8 182.0,978.9 183.3,977.0 186.4,972.6 187.7,970.7 189.1,968.8 190.4,966.9 191.8,965.0 193.2,963.2 194.6,961.3 197.3,957.6 198.7,955.7 200.0,953.8 201.2,951.8 202.4,949.8 203.5,947.8 204.5,945.7 206.4,941.8 207.4,939.7 208.4,937.8 209.4,935.9 210.4,934.0 211.4,932.3 212.4,930.6 212.4,930.6 213.5,929.1 214.5,927.7 215.6,926.5 216.6,925.3 217.7,924.4 218.8,923.5 218.8,923.5 219.8,922.8 220.9,922.2 222.1,921.7 223.2,921.3 224.3,920.9 225.5,920.6 225.5,920.6 226.7,920.5 227.8,920.5 229.0,920.7 230.2,921.0 231.3,921.4 232.5,922.0 232.5,922.0 233.7,922.8 234.8,923.7 236.0,924.8 238.6,926.3" fill="none" stroke="#1d1d1f" stroke-width="10.6" stroke-linejoin="round" stroke-linecap="butt"/>
<polyline points="275.2,985.3 275.6,985.0 276.1,984.4 297.6,953.2 298.9,951.2 300.3,949.3 301.5,947.4 302.8,945.4 304.1,943.4 305.3,941.5 325.3,909.9 326.5,907.9 327.8,906.0 329.0,904.0 330.2,902.0 331.5,900.0 332.7,898.1 354.3,863.5 355.5,861.6 356.8,859.6 358.0,857.6 359.3,855.6 360.5,853.7 361.8,851.7 376.2,829.4 377.5,827.4 378.7,825.4 379.8,823.4 380.9,821.4 382.0,819.3 383.1,817.2 387.9,807.3 388.9,805.2 389.9,803.3 390.9,801.4 391.8,799.6 392.7,797.9 393.5,796.2 393.5,796.2 394.4,795.0 395.6,794.3 396.9,794.2 399.5,795.7" fill="none" stroke="#1d1d1f" stroke-width="10.6" stroke-linejoin="round" stroke-linecap="butt"/>
<polyline points="478.4,898.4 478.9,898.1 479.4,897.5 484.5,891.1 485.9,889.3 487.3,887.4 488.6,885.4 489.8,883.5 491.0,881.5 492.2,879.5 505.2,856.0 506.3,854.0 507.5,851.9 508.6,849.9 509.7,847.9 510.9,845.8 512.0,843.8 525.1,820.3 526.2,818.3 527.3,816.2 528.4,814.2 529.5,812.1 530.5,810.0 531.6,807.9 539.9,790.7 540.9,788.6 541.9,786.5 542.9,784.5 543.8,782.5 544.7,780.4 545.5,778.5 545.5,778.5 546.4,776.6 547.3,775.1 548.2,773.9 549.3,772.9 550.4,772.3 551.5,772.0 551.5,772.0 552.7,772.0 553.9,772.2 555.1,772.6 557.7,774.2" fill="none" stroke="#1d1d1f" stroke-width="10.6" stroke-linejoin="round" stroke-linecap="butt"/>
<polyline points="621.3,858.4 621.8,858.0 622.1,857.3 631.6,836.0 632.6,833.9 633.7,831.9 634.9,830.0 636.2,828.1 637.6,826.4 639.1,824.7 639.1,824.7 640.7,823.2 642.5,821.8 644.3,820.7 646.3,819.8 648.5,819.1 650.7,818.5 652.3,818.3 654.6,817.8 656.8,817.4 659.0,816.9 661.2,816.5 663.3,816.0 665.4,815.5 665.4,815.5 667.4,814.9 669.3,814.0 671.0,812.9 672.6,811.6 674.1,810.0 675.5,808.2 676.6,806.5 677.9,804.6 679.1,802.7 680.3,800.8 681.4,798.9 682.5,797.0 683.5,795.1 683.5,795.1 684.5,793.3 685.5,791.8 686.4,790.4 687.4,789.3 688.3,788.3 689.2,787.5 689.2,787.5 690.2,787.0 691.3,786.6 692.4,786.5 693.7,786.5 695.0,786.7 696.5,787.0 696.5,787.0 698.0,787.6 699.5,788.4 701.1,789.4 703.7,790.9" fill="none" stroke="#1d1d1f" stroke-width="10.6" stroke-linejoin="round" stroke-linecap="butt"/>
<polyline points="813.0,930.4 813.5,930.1 814.0,929.5 824.7,913.2 825.9,911.2 827.2,909.2 828.4,907.3 829.7,905.3 830.9,903.3 832.1,901.3 836.8,893.4 838.0,891.4 839.4,889.5 840.7,887.7 842.2,885.9 843.7,884.1 845.3,882.5 853.3,874.5 854.9,872.9 856.5,871.2 858.0,869.4 859.5,867.6 860.9,865.8 862.3,863.9 870.0,853.4 871.4,851.5 872.7,849.6 874.1,847.7 875.5,845.8 876.8,843.9 878.2,842.0 879.9,839.6 881.3,837.7 882.6,835.9 883.9,834.1 885.2,832.3 886.5,830.6 887.7,828.9 887.7,828.9 889.0,827.5 890.4,826.8 892.0,826.6 894.6,828.1" fill="none" stroke="#1d1d1f" stroke-width="10.6" stroke-linejoin="round" stroke-linecap="butt"/>
<polyline points="956.4,910.8 958.3,912.1 960.3,913.3 963.9,915.4 965.9,916.5 967.9,917.7 969.9,918.9 972.5,920.4" fill="none" stroke="#1d1d1f" stroke-width="10.6" stroke-linejoin="round" stroke-linecap="butt"/>
<polyline points="987.7,929.3 988.5,929.2 989.3,929.1 1002.9,925.6 1005.2,925.0 1007.4,924.4 1009.7,923.8 1012.0,923.2 1014.2,922.7 1016.5,922.1 1025.3,919.9 1027.9,919.3 1030.4,919.1 1032.8,919.1 1035.0,919.4 1037.1,919.9 1039.0,920.8 1042.3,922.6 1043.0,923.0 1043.8,923.3 1044.6,923.5 1045.4,923.6 1046.2,923.7 1047.0,923.7 1049.0,923.6 1050.5,923.6 1052.0,923.8 1053.7,924.2 1055.3,924.8 1057.1,925.6 1058.8,926.5 1062.1,928.4 1062.9,928.8 1063.6,929.0 1064.3,929.0 1064.9,928.9 1065.6,928.6 1066.3,928.2 1071.6,924.1 1073.4,922.6 1075.1,921.0 1076.5,919.4 1077.9,917.6 1079.1,915.8 1080.2,913.8 1080.2,913.8 1081.1,911.9 1082.0,910.2 1082.9,908.5 1083.7,907.0 1084.4,905.7 1085.1,904.5 1085.1,904.5 1085.9,903.5 1086.9,903.0 1088.1,903.0 1090.7,904.5" fill="none" stroke="#1d1d1f" stroke-width="10.6" stroke-linejoin="round" stroke-linecap="butt"/>
<polyline points="1134.7,936.6 1136.7,937.6 1138.7,938.7 1142.5,940.5 1143.2,940.8 1144.0,941.1 1144.8,941.2 1145.6,941.3 1146.4,941.3 1147.2,941.3 1151.6,940.7 1153.8,940.2 1155.8,939.4 1157.6,938.4 1159.1,937.0 1160.5,935.4 1161.6,933.4 1165.4,926.1 1166.4,924.0 1167.4,921.9 1168.5,919.8 1169.5,917.7 1170.5,915.6 1171.5,913.5 1173.4,909.3 1174.4,907.3 1175.3,905.4 1176.3,903.6 1177.1,902.0 1178.0,900.6 1178.8,899.2 1178.8,899.2 1179.8,898.2 1181.0,897.5 1182.6,897.2 1185.2,898.7" fill="none" stroke="#1d1d1f" stroke-width="10.6" stroke-linejoin="round" stroke-linecap="butt"/>
<polyline points="1230.8,934.0 1231.2,933.6 1231.5,932.9 1237.1,920.4 1238.1,918.3 1239.0,916.1 1239.9,913.9 1240.7,911.8 1241.6,909.6 1242.4,907.4 1250.6,884.3 1251.4,882.1 1252.3,879.9 1253.2,877.8 1254.1,875.6 1255.0,873.5 1256.0,871.4 1271.0,839.3 1272.0,837.2 1273.0,835.1 1274.0,833.0 1275.0,830.9 1276.1,828.8 1277.1,826.7 1292.6,795.1 1293.6,793.0 1294.7,790.9 1295.8,788.8 1296.8,786.8 1297.9,784.7 1299.0,782.6 1316.4,750.2 1317.5,748.1 1318.6,746.0 1319.7,744.0 1320.7,741.9 1321.8,739.8 1322.8,737.7 1338.6,706.2 1339.6,704.1 1340.6,702.0 1341.6,699.9 1342.6,697.7 1343.5,695.6 1344.5,693.5 1349.2,682.4 1350.2,680.3 1351.1,678.2 1352.0,676.0 1353.0,673.9 1353.9,671.8 1354.8,669.8 1354.8,669.8 1355.9,667.9 1357.0,666.6 1358.2,665.8 1360.7,667.3" fill="none" stroke="#1d1d1f" stroke-width="10.6" stroke-linejoin="round" stroke-linecap="butt"/>
<polyline points="1468.1,837.9 1468.7,837.8 1469.5,837.6 1471.0,836.9 1472.3,836.3 1473.7,835.6 1475.3,834.8 1477.1,834.0 1478.9,833.1 1481.0,832.1 1488.3,828.4 1490.4,827.4 1492.5,826.3 1494.5,825.1 1496.5,823.9 1498.5,822.7 1500.4,821.4 1506.6,817.3 1508.5,815.9 1510.2,814.5 1511.8,812.9 1513.3,811.1 1514.7,809.3 1515.9,807.3 1516.9,805.6 1518.1,803.6 1519.3,801.8 1520.5,800.0 1521.8,798.4 1523.0,796.9 1524.3,795.6 1524.3,795.5 1525.7,794.2 1527.2,792.9 1528.8,791.6 1530.5,790.4 1532.3,789.1 1534.2,787.8 1544.8,781.1 1546.7,779.7 1548.4,778.3 1550.0,776.7 1551.4,774.9 1552.7,773.0 1553.8,771.0 1555.4,767.8 1556.5,765.7 1557.6,763.7 1558.9,761.8 1560.2,759.9 1561.6,758.0 1563.1,756.2 1567.9,750.9 1569.4,749.1 1570.9,747.3 1572.3,745.5 1573.7,743.6 1575.1,741.7 1576.5,739.8 1583.5,729.6 1584.8,727.6 1586.1,725.7 1587.3,723.7 1588.5,721.7 1589.7,719.7 1590.8,717.6 1598.2,704.2 1599.3,702.1 1600.4,700.1 1601.5,698.0 1602.6,696.0 1603.8,693.9 1604.9,691.9 1609.2,684.2 1610.3,682.2 1611.5,680.1 1612.6,678.1 1613.7,676.1 1614.8,674.0 1616.0,672.0 1620.1,664.4 1621.3,662.4 1622.4,660.4 1623.5,658.3 1624.7,656.3 1625.8,654.3 1627.0,652.2 1632.5,642.6 1633.7,640.6 1634.8,638.7 1635.8,636.9 1636.8,635.2 1637.8,633.5 1638.8,632.0 1638.8,632.0 1639.7,630.6 1640.5,629.3 1641.4,628.1 1642.2,627.1 1643.0,626.3 1643.8,625.5 1643.8,625.5 1644.6,625.0 1645.6,624.8 1646.8,624.8 1648.2,625.1 1649.8,625.7 1651.5,626.5 1651.5,626.5 1653.3,627.6 1655.0,628.8 1656.7,630.2 1659.3,631.7" fill="none" stroke="#1d1d1f" stroke-width="10.6" stroke-linejoin="round" stroke-linecap="butt"/>
<polyline points="1787.2,792.7 1788.8,793.5 1790.5,794.1 1790.5,794.1 1792.3,794.9 1794.0,795.7 1795.7,796.8 1798.3,798.3" fill="none" stroke="#1d1d1f" stroke-width="10.6" stroke-linejoin="round" stroke-linecap="butt"/>
<polyline points="1819.9,818.4 1820.5,818.0 1820.9,817.5 1824.9,811.9 1826.2,810.1 1827.7,808.3 1829.2,806.7 1830.8,805.1 1832.4,803.7 1834.2,802.3 1834.2,802.3 1835.9,801.1 1837.6,800.2 1839.2,799.6 1840.8,799.2 1842.3,799.1 1843.8,799.2 1845.7,799.6 1846.6,799.7 1847.4,799.8 1848.1,799.7 1848.9,799.6 1849.7,799.3 1850.4,799.0 1852.6,798.0 1854.0,797.3 1855.6,796.6 1857.1,796.0 1858.8,795.4 1860.4,794.9 1862.2,794.5 1862.2,794.5 1863.9,794.0 1865.6,793.6 1867.2,793.1 1868.8,792.7 1870.3,792.2 1871.8,791.8 1871.8,791.8 1873.2,791.3 1874.7,790.8 1876.1,790.2 1877.5,789.5 1879.0,788.7 1880.4,787.9 1880.4,787.9 1881.9,787.0 1883.3,786.0 1884.7,785.0 1886.1,783.9 1887.5,782.8 1888.9,781.5 1893.0,777.8" fill="none" stroke="#1d1d1f" stroke-width="10.6" stroke-linejoin="round" stroke-linecap="butt"/>
<polygon stroke="#1d1d1f" stroke-width="1" stroke-linejoin="round" points="234.9,923.7 231.3,927.6 247.2,931.4" fill="#1d1d1f"/><!-- -->
<polygon points="235.5,925.6 256.1,937.8 256.7,937.0 239.7,921.4" fill="#1d1d1f" stroke="#1d1d1f" stroke-width="1.2" stroke-linejoin="round"/>
<polygon stroke="#1d1d1f" stroke-width="1" stroke-linejoin="round" points="395.4,794.3 395.8,799.6 408.1,800.8" fill="#1d1d1f"/><!-- -->
<polygon points="396.4,795.0 417.1,807.2 417.6,806.4 400.6,790.8" fill="#1d1d1f" stroke="#1d1d1f" stroke-width="1.2" stroke-linejoin="round"/>
<polygon stroke="#1d1d1f" stroke-width="1" stroke-linejoin="round" points="553.7,772.1 551.8,777.0 566.3,779.2" fill="#1d1d1f"/><!-- -->
<polygon points="554.6,773.5 575.2,785.7 575.7,784.8 558.8,769.3" fill="#1d1d1f" stroke="#1d1d1f" stroke-width="1.2" stroke-linejoin="round"/>
<polygon stroke="#1d1d1f" stroke-width="1" stroke-linejoin="round" points="699.8,788.6 697.0,793.1 712.3,796.0" fill="#1d1d1f"/><!-- -->
<polygon points="700.6,790.3 721.2,802.5 721.7,801.6 704.8,786.0" fill="#1d1d1f" stroke="#1d1d1f" stroke-width="1.2" stroke-linejoin="round"/>
<polygon stroke="#1d1d1f" stroke-width="1" stroke-linejoin="round" points="890.5,826.8 891.0,832.0 903.2,833.2" fill="#1d1d1f"/><!-- -->
<polygon points="891.5,827.5 912.2,839.7 912.7,838.8 895.7,823.3" fill="#1d1d1f" stroke="#1d1d1f" stroke-width="1.2" stroke-linejoin="round"/>
<polygon stroke="#1d1d1f" stroke-width="1" stroke-linejoin="round" points="968.7,918.1 965.9,922.7 981.1,925.5" fill="#1d1d1f"/><!-- -->
<polygon points="969.4,919.8 990.1,932.0 990.6,931.1 973.7,915.5" fill="#1d1d1f" stroke="#1d1d1f" stroke-width="1.2" stroke-linejoin="round"/>
<polygon stroke="#1d1d1f" stroke-width="1" stroke-linejoin="round" points="1086.6,903.0 1086.8,908.3 1099.3,909.6" fill="#1d1d1f"/><!-- -->
<polygon points="1087.6,903.8 1133.1,930.8 1134.4,928.6 1092.1,899.2" fill="#1d1d1f" stroke="#1d1d1f" stroke-width="1.2" stroke-linejoin="round"/>
<polygon stroke="#1d1d1f" stroke-width="1" stroke-linejoin="round" points="1181.1,897.5 1182.2,902.7 1193.8,903.8" fill="#1d1d1f"/><!-- -->
<polygon points="1182.1,898.0 1228.5,925.5 1230.5,922.1 1186.6,893.4" fill="#1d1d1f" stroke="#1d1d1f" stroke-width="1.2" stroke-linejoin="round"/>
<polygon stroke="#1d1d1f" stroke-width="1" stroke-linejoin="round" points="1356.9,666.6 1359.8,671.1 1369.3,672.4" fill="#1d1d1f"/><!-- -->
<polygon points="1357.6,666.7 1378.3,678.9 1378.8,678.0 1361.9,662.4" fill="#1d1d1f" stroke="#1d1d1f" stroke-width="1.2" stroke-linejoin="round"/>
<polygon stroke="#1d1d1f" stroke-width="1" stroke-linejoin="round" points="1655.5,629.2 1652.2,633.3 1667.9,636.8" fill="#1d1d1f"/><!-- -->
<polygon points="1656.2,631.0 1676.8,643.2 1677.3,642.4 1660.4,626.8" fill="#1d1d1f" stroke="#1d1d1f" stroke-width="1.2" stroke-linejoin="round"/>
<polygon stroke="#1d1d1f" stroke-width="1" stroke-linejoin="round" points="1794.5,796.0 1791.7,800.5 1806.9,803.4" fill="#1d1d1f"/><!-- -->
<polygon points="1795.2,797.6 1815.9,809.9 1816.4,809.0 1799.5,793.4" fill="#1d1d1f" stroke="#1d1d1f" stroke-width="1.2" stroke-linejoin="round"/>
<polygon points="148.1,1087.9 155.9,1082.4 157.8,1081.1 159.6,1079.6 161.4,1078.2 163.2,1076.6 164.9,1075.1 166.5,1073.5 169.4,1070.6 171.0,1069.1 172.7,1067.6 174.5,1066.3 176.2,1065.2 178.0,1064.2 179.9,1063.3 179.9,1063.3 181.7,1062.6 183.6,1061.9 185.4,1061.2 187.2,1060.6 189.1,1060.0 190.9,1059.4 190.9,1059.4 192.8,1058.8 194.5,1057.9 196.2,1056.8 197.8,1055.5 199.3,1054.0 200.8,1052.3 203.3,1049.0 204.7,1047.2 206.1,1045.3 207.5,1043.4 208.8,1041.5 210.1,1039.5 211.3,1037.6 215.0,1031.9 216.2,1029.9 217.5,1028.0 218.7,1026.0 220.0,1024.1 221.3,1022.1 222.6,1020.2 224.4,1017.5 225.7,1015.6 227.0,1013.6 228.3,1011.7 229.7,1009.8 231.0,1007.9 232.3,1006.0 235.4,1001.6 236.7,999.7 238.1,997.8 239.4,995.9 240.8,994.0 242.2,992.2 243.6,990.3 246.3,986.6 247.7,984.7 249.0,982.8 250.2,980.8 251.4,978.8 252.5,976.8 253.5,974.7 255.4,970.8 256.4,968.7 257.4,966.8 258.4,964.9 259.4,963.0 260.4,961.3 261.4,959.6 261.4,959.6 262.5,958.1 263.5,956.7 264.6,955.5 265.6,954.3 266.7,953.4 267.8,952.5 267.8,952.5 268.8,951.8 269.9,951.2 271.1,950.7 272.2,950.3 273.3,949.9 274.5,949.6 274.5,949.6 275.7,949.5 276.8,949.5 278.0,949.7 279.2,950.0 280.3,950.4 281.5,951.0 281.5,951.0 282.7,951.8 283.8,952.7 285.0,953.8 286.2,955.0 287.3,956.4 288.5,958.0 288.5,958.0 289.7,959.7 290.9,961.4 292.0,963.2 293.2,965.1 294.5,967.0 295.7,969.0 296.3,970.0 297.6,972.0 298.8,974.0 300.0,976.0 301.2,978.0 302.4,980.0 303.6,982.0 322.4,1013.4 322.8,1014.0 323.3,1014.3 323.7,1014.4 324.2,1014.3 324.6,1014.0 325.1,1013.4 346.6,982.2 347.9,980.2 349.3,978.3 350.5,976.4 351.8,974.4 353.1,972.4 354.3,970.5 374.3,938.9 375.5,936.9 376.8,935.0 378.0,933.0 379.2,931.0 380.5,929.0 381.7,927.1 403.3,892.5 404.5,890.6 405.8,888.6 407.0,886.6 408.3,884.6 409.5,882.7 410.8,880.7 425.2,858.4 426.5,856.4 427.7,854.4 428.8,852.4 429.9,850.4 431.0,848.3 432.1,846.2 436.9,836.3 437.9,834.2 438.9,832.3 439.9,830.4 440.8,828.6 441.7,826.9 442.5,825.2 442.5,825.2 443.4,824.0 444.6,823.3 445.9,823.2 447.5,823.6 449.2,824.7 451.1,826.4 453.3,828.5 455.0,830.1 456.6,831.8 458.2,833.5 459.7,835.3 461.1,837.1 462.5,839.0 474.2,855.3 475.6,857.2 476.9,859.1 478.3,861.0 479.7,862.9 481.0,864.8 482.4,866.7 494.0,883.1 495.4,885.0 496.7,886.9 498.1,888.8 499.4,890.7 500.8,892.6 502.1,894.6 512.0,908.8 513.3,910.8 514.7,912.7 516.1,914.5 517.5,916.4 518.9,918.3 520.3,920.1 525.4,926.5 525.9,927.1 526.4,927.4 526.9,927.5 527.4,927.4 527.9,927.1 528.4,926.5 533.5,920.1 534.9,918.3 536.3,916.4 537.6,914.4 538.8,912.5 540.0,910.5 541.2,908.5 554.2,885.0 555.3,883.0 556.5,880.9 557.6,878.9 558.7,876.9 559.9,874.8 561.0,872.8 574.1,849.3 575.2,847.3 576.3,845.2 577.4,843.2 578.5,841.1 579.5,839.0 580.6,836.9 588.9,819.7 589.9,817.6 590.9,815.5 591.9,813.5 592.8,811.5 593.7,809.4 594.5,807.5 594.5,807.5 595.4,805.6 596.3,804.1 597.2,802.9 598.3,801.9 599.4,801.3 600.5,801.0 600.5,801.0 601.7,801.0 602.9,801.2 604.1,801.6 605.3,802.3 606.5,803.3 607.8,804.5 607.8,804.5 609.1,805.9 610.3,807.4 611.6,809.0 612.8,810.7 614.0,812.5 615.3,814.5 621.8,825.1 623.1,827.1 624.3,829.1 625.5,831.1 626.7,833.1 627.8,835.1 629.0,837.1 635.9,848.9 637.1,850.9 638.3,852.8 639.6,854.8 640.9,856.7 642.3,858.5 643.8,860.4 650.8,869.3 652.3,871.1 653.8,872.9 655.4,874.6 657.0,876.3 658.6,878.0 660.3,879.6 668.3,886.9 668.9,887.4 669.4,887.6 669.9,887.6 670.3,887.4 670.8,887.0 671.1,886.3 680.6,865.0 681.6,862.9 682.7,860.9 683.9,859.0 685.2,857.1 686.6,855.4 688.1,853.7 688.1,853.7 689.7,852.2 691.5,850.8 693.3,849.7 695.3,848.8 697.5,848.1 699.7,847.5 701.3,847.3 703.6,846.8 705.8,846.4 708.0,845.9 710.2,845.5 712.3,845.0 714.4,844.5 714.4,844.5 716.4,843.9 718.3,843.0 720.0,841.9 721.6,840.6 723.1,839.0 724.5,837.2 725.6,835.5 726.9,833.6 728.1,831.7 729.3,829.8 730.4,827.9 731.5,826.0 732.5,824.1 732.5,824.1 733.5,822.3 734.5,820.8 735.4,819.4 736.4,818.3 737.3,817.3 738.2,816.5 738.2,816.5 739.2,816.0 740.3,815.6 741.4,815.5 742.7,815.5 744.0,815.7 745.5,816.0 745.5,816.0 747.0,816.6 748.5,817.4 750.1,818.4 751.6,819.6 753.2,821.0 754.8,822.6 755.2,822.9 756.8,824.6 758.3,826.4 759.9,828.1 761.4,829.9 762.9,831.7 764.4,833.5 773.9,845.5 775.4,847.4 776.8,849.2 778.3,851.0 779.7,852.9 781.1,854.7 782.6,856.5 793.8,871.2 795.3,873.0 796.7,874.9 798.1,876.7 799.5,878.6 800.9,880.4 802.4,882.3 813.6,896.9 815.1,898.8 816.5,900.6 817.9,902.5 819.3,904.3 820.8,906.2 822.2,908.0 833.5,922.8 834.9,924.6 836.4,926.5 837.8,928.3 839.2,930.2 840.6,932.1 842.0,933.9 860.1,958.6 860.6,959.1 861.1,959.5 861.6,959.6 862.0,959.4 862.5,959.1 863.0,958.5 873.7,942.2 874.9,940.2 876.2,938.2 877.4,936.3 878.7,934.3 879.9,932.3 881.1,930.3 885.8,922.4 887.0,920.4 888.4,918.5 889.7,916.7 891.2,914.9 892.7,913.1 894.3,911.5 902.3,903.5 903.9,901.9 905.5,900.2 907.0,898.4 908.5,896.6 909.9,894.8 911.3,892.9 919.0,882.4 920.4,880.5 921.7,878.6 923.1,876.7 924.5,874.8 925.8,872.9 927.2,871.0 928.9,868.6 930.3,866.7 931.6,864.9 932.9,863.1 934.2,861.3 935.5,859.6 936.7,857.9 936.7,857.9 938.0,856.5 939.4,855.8 941.0,855.6 942.7,856.1 944.6,857.1 946.5,858.8 948.5,860.7 950.2,862.3 951.8,864.0 953.2,865.8 954.6,867.6 956.0,869.5 957.2,871.5 961.9,879.3 963.1,881.3 964.3,883.3 965.5,885.3 966.8,887.3 968.0,889.2 969.3,891.2 975.6,901.2 976.9,903.2 978.1,905.1 979.4,907.1 980.6,909.1 981.9,911.1 983.1,913.0 985.6,917.1 986.9,919.0 988.2,920.9 989.5,922.8 990.9,924.7 992.4,926.5 993.9,928.3 998.6,933.6 1000.2,935.3 1001.8,936.9 1003.6,938.4 1005.4,939.8 1007.3,941.1 1009.3,942.3 1012.9,944.4 1014.9,945.5 1016.9,946.7 1018.9,947.9 1020.9,949.1 1022.9,950.3 1024.9,951.6 1033.8,957.3 1034.5,957.7 1035.2,958.0 1036.0,958.2 1036.7,958.3 1037.5,958.2 1038.3,958.1 1051.9,954.6 1054.2,954.0 1056.4,953.4 1058.7,952.8 1061.0,952.2 1063.2,951.7 1065.5,951.1 1074.3,948.9 1076.9,948.3 1079.4,948.1 1081.8,948.1 1084.0,948.4 1086.1,948.9 1088.0,949.8 1091.3,951.6 1092.0,952.0 1092.8,952.3 1093.6,952.5 1094.4,952.6 1095.2,952.7 1096.0,952.7 1098.0,952.6 1099.5,952.6 1101.0,952.8 1102.7,953.2 1104.3,953.8 1106.1,954.6 1107.8,955.5 1111.1,957.4 1111.9,957.8 1112.6,958.0 1113.3,958.0 1113.9,957.9 1114.6,957.6 1115.3,957.2 1120.6,953.1 1122.4,951.6 1124.1,950.0 1125.5,948.4 1126.9,946.6 1128.1,944.8 1129.2,942.8 1129.2,942.8 1130.1,940.9 1131.0,939.2 1131.9,937.5 1132.7,936.0 1133.4,934.7 1134.1,933.5 1134.1,933.5 1134.9,932.5 1135.9,932.0 1137.1,932.0 1138.5,932.4 1140.2,933.2 1142.0,934.5 1142.4,934.7 1144.3,936.1 1146.1,937.5 1148.0,938.9 1149.8,940.4 1151.6,941.8 1153.5,943.3 1162.4,950.4 1164.3,951.9 1166.1,953.3 1168.0,954.7 1169.8,956.1 1171.7,957.5 1173.6,958.9 1176.0,960.6 1177.9,961.9 1179.8,963.2 1181.8,964.4 1183.7,965.6 1185.7,966.6 1187.7,967.7 1191.5,969.5 1192.2,969.8 1193.0,970.1 1193.8,970.2 1194.6,970.3 1195.4,970.3 1196.2,970.3 1200.6,969.7 1202.8,969.2 1204.8,968.4 1206.6,967.4 1208.1,966.0 1209.5,964.4 1210.6,962.4 1214.4,955.1 1215.4,953.0 1216.4,950.9 1217.5,948.8 1218.5,946.7 1219.5,944.6 1220.5,942.5 1222.4,938.3 1223.4,936.3 1224.3,934.4 1225.3,932.6 1226.1,931.0 1227.0,929.6 1227.8,928.2 1227.8,928.2 1228.8,927.2 1230.0,926.5 1231.6,926.2 1233.5,926.2 1235.7,926.7 1238.2,927.5 1243.2,929.4 1245.4,930.2 1247.4,931.0 1249.4,931.8 1251.2,932.6 1253.0,933.4 1254.6,934.2 1254.6,934.2 1256.2,935.1 1257.7,936.2 1259.2,937.4 1260.7,938.9 1262.1,940.5 1263.4,942.3 1264.0,943.1 1265.3,945.0 1266.7,946.9 1268.0,948.8 1269.4,950.7 1270.8,952.5 1272.2,954.4 1278.0,962.2 1278.5,962.7 1278.9,963.1 1279.4,963.1 1279.8,963.0 1280.2,962.6 1280.5,961.9 1286.1,949.4 1287.1,947.3 1288.0,945.1 1288.9,942.9 1289.7,940.8 1290.6,938.6 1291.4,936.4 1299.6,913.3 1300.4,911.1 1301.3,908.9 1302.2,906.8 1303.1,904.6 1304.0,902.5 1305.0,900.4 1320.0,868.3 1321.0,866.2 1322.0,864.1 1323.0,862.0 1324.0,859.9 1325.1,857.8 1326.1,855.7 1341.6,824.1 1342.6,822.0 1343.7,819.9 1344.8,817.8 1345.8,815.8 1346.9,813.7 1348.0,811.6 1365.4,779.2 1366.5,777.1 1367.6,775.0 1368.7,773.0 1369.7,770.9 1370.8,768.8 1371.8,766.7 1387.6,735.2 1388.6,733.1 1389.6,731.0 1390.6,728.9 1391.6,726.7 1392.5,724.6 1393.5,722.5 1398.2,711.4 1399.2,709.3 1400.1,707.2 1401.0,705.0 1402.0,702.9 1402.9,700.8 1403.8,698.8 1403.8,698.8 1404.9,696.9 1406.0,695.6 1407.2,694.8 1408.4,694.5 1409.8,694.8 1411.3,695.5 1411.3,695.5 1412.9,696.6 1414.4,697.8 1415.8,699.2 1417.2,700.7 1418.6,702.4 1419.9,704.3 1426.1,713.2 1427.4,715.1 1428.7,717.1 1430.0,719.0 1431.3,721.0 1432.6,722.9 1433.8,724.8 1440.0,734.2 1441.2,736.1 1442.5,738.1 1443.7,740.1 1444.9,742.1 1446.1,744.1 1447.3,746.1 1458.5,765.9 1459.7,767.9 1460.8,770.0 1462.0,772.0 1463.2,774.0 1464.3,776.1 1465.5,778.1 1476.5,797.4 1477.7,799.4 1478.8,801.5 1480.0,803.5 1481.2,805.5 1482.3,807.6 1483.5,809.6 1494.5,828.9 1495.7,830.9 1496.8,833.0 1498.0,835.0 1499.1,837.0 1500.3,839.1 1501.4,841.1 1515.0,865.4 1515.4,866.1 1515.9,866.5 1516.5,866.8 1517.1,866.9 1517.7,866.8 1518.5,866.6 1520.0,865.9 1521.3,865.3 1522.7,864.6 1524.3,863.8 1526.1,863.0 1527.9,862.1 1530.0,861.1 1537.3,857.4 1539.4,856.4 1541.5,855.3 1543.5,854.1 1545.5,852.9 1547.5,851.7 1549.4,850.4 1555.6,846.3 1557.5,844.9 1559.2,843.5 1560.8,841.9 1562.3,840.1 1563.7,838.3 1564.9,836.3 1565.9,834.6 1567.1,832.6 1568.3,830.8 1569.5,829.0 1570.8,827.4 1572.0,825.9 1573.3,824.6 1573.3,824.5 1574.7,823.2 1576.2,821.9 1577.8,820.6 1579.5,819.4 1581.3,818.1 1583.2,816.8 1593.8,810.1 1595.7,808.7 1597.4,807.3 1599.0,805.7 1600.4,803.9 1601.7,802.0 1602.8,800.0 1604.4,796.8 1605.5,794.7 1606.6,792.7 1607.9,790.8 1609.2,788.9 1610.6,787.0 1612.1,785.2 1616.9,779.9 1618.4,778.1 1619.9,776.3 1621.3,774.5 1622.7,772.6 1624.1,770.7 1625.5,768.8 1632.5,758.6 1633.8,756.6 1635.1,754.7 1636.3,752.7 1637.5,750.7 1638.7,748.7 1639.8,746.6 1647.2,733.2 1648.3,731.1 1649.4,729.1 1650.5,727.0 1651.6,725.0 1652.8,722.9 1653.9,720.9 1658.2,713.2 1659.3,711.2 1660.5,709.1 1661.6,707.1 1662.7,705.1 1663.8,703.0 1665.0,701.0 1669.1,693.4 1670.3,691.4 1671.4,689.4 1672.5,687.3 1673.7,685.3 1674.8,683.3 1676.0,681.2 1681.5,671.6 1682.7,669.6 1683.8,667.7 1684.8,665.9 1685.8,664.2 1686.8,662.5 1687.8,661.0 1687.8,661.0 1688.7,659.6 1689.5,658.3 1690.4,657.1 1691.2,656.1 1692.0,655.3 1692.8,654.5 1692.8,654.5 1693.6,654.0 1694.6,653.8 1695.8,653.8 1697.2,654.1 1698.8,654.7 1700.5,655.5 1700.5,655.5 1702.3,656.6 1704.0,657.8 1705.7,659.2 1707.3,660.7 1708.8,662.3 1710.2,664.1 1714.5,669.8 1715.9,671.7 1717.2,673.6 1718.5,675.5 1719.8,677.5 1721.0,679.5 1722.1,681.5 1725.3,687.2 1726.4,689.2 1727.6,691.3 1728.7,693.3 1729.9,695.3 1731.0,697.3 1732.2,699.4 1754.9,738.7 1756.1,740.8 1757.3,742.8 1758.4,744.8 1759.6,746.8 1760.9,748.8 1762.1,750.8 1770.6,764.6 1771.9,766.6 1773.1,768.6 1774.3,770.6 1775.5,772.6 1776.8,774.6 1778.0,776.5 1780.5,780.6 1781.8,782.4 1783.3,784.1 1784.9,785.7 1786.7,787.0 1788.6,788.1 1790.7,789.1 1791.6,789.4 1793.8,790.3 1796.0,791.0 1798.2,791.8 1800.4,792.5 1802.6,793.1 1804.8,793.8 1804.8,793.8 1807.0,794.4 1809.0,795.1 1810.8,795.9 1812.4,796.8 1813.8,797.7 1815.1,798.8 1815.1,798.8 1816.3,800.0 1817.4,801.3 1818.6,802.8 1819.8,804.4 1820.9,806.2 1822.1,808.2 1822.1,808.2 1823.3,810.2 1824.5,812.0 1825.8,813.7 1827.1,815.2 1828.5,816.6 1829.9,817.8 1829.9,817.8 1831.4,818.9 1833.0,820.0 1834.5,820.9 1836.2,821.7 1837.8,822.5 1839.5,823.1 1839.5,823.1 1841.3,823.9 1843.0,824.7 1844.7,825.8 1846.4,827.0 1848.1,828.4 1849.8,829.9 1853.7,833.8 1855.4,835.4 1857.0,837.1 1858.7,838.7 1860.3,840.3 1862.0,842.0 1863.6,843.6 1866.7,846.7 1867.3,847.2 1867.9,847.5 1868.4,847.5 1868.9,847.4 1869.5,847.0 1869.9,846.5 1873.9,840.9 1875.2,839.1 1876.7,837.3 1878.2,835.7 1879.8,834.1 1881.4,832.7 1883.2,831.3 1883.2,831.3 1884.9,830.1 1886.6,829.2 1888.2,828.6 1889.8,828.2 1891.3,828.1 1892.8,828.2 1894.7,828.6 1895.6,828.7 1896.4,828.8 1897.1,828.7 1897.9,828.6 1898.7,828.3 1899.4,828.0 1901.6,827.0 1903.0,826.3 1904.6,825.6 1906.1,825.0 1907.8,824.4 1909.4,823.9 1911.2,823.5 1911.2,823.5 1912.9,823.0 1914.6,822.6 1916.2,822.1 1917.8,821.7 1919.3,821.2 1920.8,820.8 1920.8,820.8 1922.2,820.3 1923.7,819.8 1925.1,819.2 1926.5,818.5 1928.0,817.7 1929.4,816.9 1929.4,816.9 1930.9,816.0 1932.3,815.0 1933.7,814.0 1935.1,812.9 1936.5,811.8 1937.9,810.5 1942.0,806.8 1942.0,882.9 148.1,1133.7" fill="#e9eaec"/>
<polygon points="387.5,912.5 402.5,910.6 408.9,1028.1 387.8,1031.0" fill="#6ec5e5"/>
<polygon points="419.5,908.7 429.0,907.1 440.6,966.2 423.2,986.8 412.9,938.4" fill="#6ab42d"/>
<polygon points="401.7,910.8 420.0,908.7 416.3,942.4 412.2,937.6 412.5,1027.8 408.1,1028.4" fill="#1ea8d8"/>
<polygon points="440.6,966.2 448.9,1022.1 431.1,1024.9 423.2,986.8" fill="#a4c845"/>
<polygon points="451.7,932.1 454.1,930.5 456.0,1001.1 452.9,1021.7 448.6,1022.5 447.5,985.2" fill="#ffe81c"/>
<polygon points="454.1,929.7 466.0,907.5 471.6,927.3 456.0,1001.9" fill="#f08519"/>
<polygon points="466.0,907.5 474.8,924.1 479.5,919.4 481.1,1017.0 472.4,1018.9 471.6,927.3" fill="#c51418"/>
<polygon points="479.5,919.4 487.5,907.1 497.8,918.6 497.8,1015.4 479.5,1017.8" fill="#e30d13"/>
<g filter="url(#nf)">
<text transform="translate(387.3,1052.4) skewY(-8) " font-size="21.5" font-weight="bold" fill="#000" stroke="#000" stroke-width="0.5" textLength="109" lengthAdjust="spacingAndGlyphs">MARATONA</text>
<text transform="translate(387.3,1065.2) skewY(-8)" font-size="13.6" font-weight="bold" fill="#000" stroke="#000" stroke-width="0.3" textLength="110" lengthAdjust="spacingAndGlyphs">DLES DOLOMITES</text>
</g>
<g fill="none" stroke-width="3.1" stroke-linecap="round">
<path d="M417.5,1082.2 L425.6,1081.1" stroke="#b5b5b5" stroke-width="2.1"/>
<path d="M424.05,1079.4 A8,8 0 1 0 421.9,1088.9" stroke="#ec3a26"/>
<path d="M431,1072 V1081.4 M445.6,1078 V1086.8" stroke="#b5b5b5" stroke-width="2.4"/>
<path d="M431,1078.6 A7.3,7.9 0 0 1 445.6,1076.9" stroke="#e6287e"/>
<path d="M459.9,1076.2 L468.7,1075.1" stroke="#b5b5b5" stroke-width="2.1"/>
<path d="M465.4,1073 A7.6,7.6 0 1 0 463.4,1082" stroke="#1d9bd8"/>
<path d="M473.75,1059.6 V1068.9" stroke="#b5b5b5" stroke-width="2.6"/>
<path d="M473.75,1069.5 V1079 Q473.75,1082 477,1081.6" stroke="#2fb45a" stroke-width="2.8"/>
</g>
<polygon points="148.0,1135.8 261.6,1119.9 261.6,1149.9 148.0,1165.8" fill="#c6c6c8"/>
<polygon points="261.6,1119.9 444.8,1094.3 444.8,1124.3 261.6,1149.9" fill="#6d6c70"/>
<polygon points="444.8,1094.3 601.0,1072.4 601.0,1102.4 444.8,1124.3" fill="#c6c6c8"/>
<polygon points="601.0,1072.4 924.8,1027.1 924.8,1057.1 601.0,1102.4" fill="#6d6c70"/>
<polygon points="924.8,1027.1 1723.0,915.5 1723.0,945.5 924.8,1057.1" fill="#c6c6c8"/>
<polygon points="1723.0,915.5 1938.0,885.4 1938.0,915.4 1723.0,945.5" fill="#6d6c70"/>
<polygon points="152.0,1130.9 1938.0,881.1 1938.0,885.7 152.0,1135.5" fill="#fff" stroke="#000" stroke-width="1.3"/>
<polygon points="152.0,1130.2 278.0,1112.6 278.0,1118.6 152.0,1136.2" fill="#000"/>
<polygon points="408.6,1094.3 538.0,1076.2 538.0,1082.2 408.6,1100.3" fill="#000"/>
<polygon points="670.5,1057.7 800.0,1039.6 800.0,1045.6 670.5,1063.7" fill="#000"/>
<polygon points="934.0,1020.8 1064.0,1002.7 1064.0,1008.7 934.0,1026.8" fill="#000"/>
<polygon points="1195.0,984.3 1324.8,966.2 1324.8,972.2 1195.0,990.3" fill="#000"/>
<polygon points="1455.0,948.0 1586.0,929.7 1586.0,935.7 1455.0,954.0" fill="#000"/>
<polygon points="1716.0,911.5 1846.7,893.2 1846.7,899.2 1716.0,917.5" fill="#000"/>
<g stroke="#111" stroke-width="1.5" fill="none">
<line x1="197.8" y1="1056.1" x2="197.8" y2="1145.0"/>
<line x1="273.5" y1="949.8" x2="273.5" y2="1126.0"/>
<line x1="325.0" y1="1013.6" x2="325.0" y2="1127.6"/>
<line x1="444.8" y1="820.9" x2="444.8" y2="1110.7"/>
<line x1="528.8" y1="926.1" x2="528.8" y2="1083.0"/>
<line x1="535.2" y1="917.9" x2="535.2" y2="1083.0"/>
<line x1="600.2" y1="801.0" x2="600.2" y2="1089.0"/>
<line x1="670.5" y1="887.7" x2="670.5" y2="1076.0"/>
<line x1="685.5" y1="856.4" x2="685.5" y2="1076.0"/>
<line x1="746.2" y1="816.3" x2="746.2" y2="1069.0"/>
<line x1="863.3" y1="958.0" x2="863.3" y2="1052.0"/>
<line x1="940.2" y1="853.2" x2="940.2" y2="1034.0"/>
<line x1="989.8" y1="923.6" x2="989.8" y2="1036.4"/>
<line x1="1082.6" y1="946.9" x2="1082.6" y2="1022.9"/>
<line x1="1119.5" y1="953.9" x2="1119.5" y2="1016.7"/>
<line x1="1137.4" y1="931.0" x2="1137.4" y2="1015.7"/>
<line x1="1201.0" y1="955.6" x2="1201.0" y2="996.0"/>
<line x1="1230.0" y1="924.8" x2="1230.0" y2="1002.4"/>
<line x1="1279.5" y1="964.2" x2="1279.5" y2="1000.0"/>
<line x1="1408.0" y1="693.3" x2="1408.0" y2="977.9"/>
<line x1="1544.0" y1="854.0" x2="1544.0" y2="958.8"/>
<line x1="1679.0" y1="676.0" x2="1679.0" y2="939.8"/>
<line x1="1693.5" y1="653.9" x2="1693.5" y2="937.4"/>
<line x1="1793.8" y1="790.3" x2="1793.8" y2="924.0"/>
<line x1="1840.0" y1="823.3" x2="1840.0" y2="910.0"/>
<line x1="1875.7" y1="838.3" x2="1875.7" y2="911.0"/>
<line x1="1891.4" y1="828.0" x2="1891.4" y2="910.0"/>
</g>
<polyline points="148.1,1087.9 155.9,1082.4 157.8,1081.1 159.6,1079.6 161.4,1078.2 163.2,1076.6 164.9,1075.1 166.5,1073.5 169.4,1070.6 171.0,1069.1 172.7,1067.6 174.5,1066.3 176.2,1065.2 178.0,1064.2 179.9,1063.3 179.9,1063.3 181.7,1062.6 183.6,1061.9 185.4,1061.2 187.2,1060.6 189.1,1060.0 190.9,1059.4 190.9,1059.4 192.8,1058.8 194.5,1057.9 196.2,1056.8 197.8,1055.5 199.3,1054.0 200.8,1052.3 203.3,1049.0 204.7,1047.2 206.1,1045.3 207.5,1043.4 208.8,1041.5 210.1,1039.5 211.3,1037.6 215.0,1031.9 216.2,1029.9 217.5,1028.0 218.7,1026.0 220.0,1024.1 221.3,1022.1 222.6,1020.2 224.4,1017.5 225.7,1015.6 227.0,1013.6 228.3,1011.7 229.7,1009.8 231.0,1007.9 232.3,1006.0 235.4,1001.6 236.7,999.7 238.1,997.8 239.4,995.9 240.8,994.0 242.2,992.2 243.6,990.3 246.3,986.6 247.7,984.7 249.0,982.8 250.2,980.8 251.4,978.8 252.5,976.8 253.5,974.7 255.4,970.8 256.4,968.7 257.4,966.8 258.4,964.9 259.4,963.0 260.4,961.3 261.4,959.6 261.4,959.6 262.5,958.1 263.5,956.7 264.6,955.5 265.6,954.3 266.7,953.4 267.8,952.5 267.8,952.5 268.8,951.8 269.9,951.2 271.1,950.7 272.2,950.3 273.3,949.9 274.5,949.6 274.5,949.6 275.7,949.5 276.8,949.5 278.0,949.7 279.2,950.0 280.3,950.4 281.5,951.0 281.5,951.0 282.7,951.8 283.8,952.7 285.0,953.8 286.2,955.0 287.3,956.4 288.5,958.0 288.5,958.0 289.7,959.7 290.9,961.4 292.0,963.2 293.2,965.1 294.5,967.0 295.7,969.0 296.3,970.0 297.6,972.0 298.8,974.0 300.0,976.0 301.2,978.0 302.4,980.0 303.6,982.0 322.4,1013.4 322.8,1014.0 323.3,1014.3 323.7,1014.4 324.2,1014.3 324.6,1014.0 325.1,1013.4 346.6,982.2 347.9,980.2 349.3,978.3 350.5,976.4 351.8,974.4 353.1,972.4 354.3,970.5 374.3,938.9 375.5,936.9 376.8,935.0 378.0,933.0 379.2,931.0 380.5,929.0 381.7,927.1 403.3,892.5 404.5,890.6 405.8,888.6 407.0,886.6 408.3,884.6 409.5,882.7 410.8,880.7 425.2,858.4 426.5,856.4 427.7,854.4 428.8,852.4 429.9,850.4 431.0,848.3 432.1,846.2 436.9,836.3 437.9,834.2 438.9,832.3 439.9,830.4 440.8,828.6 441.7,826.9 442.5,825.2 442.5,825.2 443.4,824.0 444.6,823.3 445.9,823.2 447.5,823.6 449.2,824.7 451.1,826.4 453.3,828.5 455.0,830.1 456.6,831.8 458.2,833.5 459.7,835.3 461.1,837.1 462.5,839.0 474.2,855.3 475.6,857.2 476.9,859.1 478.3,861.0 479.7,862.9 481.0,864.8 482.4,866.7 494.0,883.1 495.4,885.0 496.7,886.9 498.1,888.8 499.4,890.7 500.8,892.6 502.1,894.6 512.0,908.8 513.3,910.8 514.7,912.7 516.1,914.5 517.5,916.4 518.9,918.3 520.3,920.1 525.4,926.5 525.9,927.1 526.4,927.4 526.9,927.5 527.4,927.4 527.9,927.1 528.4,926.5 533.5,920.1 534.9,918.3 536.3,916.4 537.6,914.4 538.8,912.5 540.0,910.5 541.2,908.5 554.2,885.0 555.3,883.0 556.5,880.9 557.6,878.9 558.7,876.9 559.9,874.8 561.0,872.8 574.1,849.3 575.2,847.3 576.3,845.2 577.4,843.2 578.5,841.1 579.5,839.0 580.6,836.9 588.9,819.7 589.9,817.6 590.9,815.5 591.9,813.5 592.8,811.5 593.7,809.4 594.5,807.5 594.5,807.5 595.4,805.6 596.3,804.1 597.2,802.9 598.3,801.9 599.4,801.3 600.5,801.0 600.5,801.0 601.7,801.0 602.9,801.2 604.1,801.6 605.3,802.3 606.5,803.3 607.8,804.5 607.8,804.5 609.1,805.9 610.3,807.4 611.6,809.0 612.8,810.7 614.0,812.5 615.3,814.5 621.8,825.1 623.1,827.1 624.3,829.1 625.5,831.1 626.7,833.1 627.8,835.1 629.0,837.1 635.9,848.9 637.1,850.9 638.3,852.8 639.6,854.8 640.9,856.7 642.3,858.5 643.8,860.4 650.8,869.3 652.3,871.1 653.8,872.9 655.4,874.6 657.0,876.3 658.6,878.0 660.3,879.6 668.3,886.9 668.9,887.4 669.4,887.6 669.9,887.6 670.3,887.4 670.8,887.0 671.1,886.3 680.6,865.0 681.6,862.9 682.7,860.9 683.9,859.0 685.2,857.1 686.6,855.4 688.1,853.7 688.1,853.7 689.7,852.2 691.5,850.8 693.3,849.7 695.3,848.8 697.5,848.1 699.7,847.5 701.3,847.3 703.6,846.8 705.8,846.4 708.0,845.9 710.2,845.5 712.3,845.0 714.4,844.5 714.4,844.5 716.4,843.9 718.3,843.0 720.0,841.9 721.6,840.6 723.1,839.0 724.5,837.2 725.6,835.5 726.9,833.6 728.1,831.7 729.3,829.8 730.4,827.9 731.5,826.0 732.5,824.1 732.5,824.1 733.5,822.3 734.5,820.8 735.4,819.4 736.4,818.3 737.3,817.3 738.2,816.5 738.2,816.5 739.2,816.0 740.3,815.6 741.4,815.5 742.7,815.5 744.0,815.7 745.5,816.0 745.5,816.0 747.0,816.6 748.5,817.4 750.1,818.4 751.6,819.6 753.2,821.0 754.8,822.6 755.2,822.9 756.8,824.6 758.3,826.4 759.9,828.1 761.4,829.9 762.9,831.7 764.4,833.5 773.9,845.5 775.4,847.4 776.8,849.2 778.3,851.0 779.7,852.9 781.1,854.7 782.6,856.5 793.8,871.2 795.3,873.0 796.7,874.9 798.1,876.7 799.5,878.6 800.9,880.4 802.4,882.3 813.6,896.9 815.1,898.8 816.5,900.6 817.9,902.5 819.3,904.3 820.8,906.2 822.2,908.0 833.5,922.8 834.9,924.6 836.4,926.5 837.8,928.3 839.2,930.2 840.6,932.1 842.0,933.9 860.1,958.6 860.6,959.1 861.1,959.5 861.6,959.6 862.0,959.4 862.5,959.1 863.0,958.5 873.7,942.2 874.9,940.2 876.2,938.2 877.4,936.3 878.7,934.3 879.9,932.3 881.1,930.3 885.8,922.4 887.0,920.4 888.4,918.5 889.7,916.7 891.2,914.9 892.7,913.1 894.3,911.5 902.3,903.5 903.9,901.9 905.5,900.2 907.0,898.4 908.5,896.6 909.9,894.8 911.3,892.9 919.0,882.4 920.4,880.5 921.7,878.6 923.1,876.7 924.5,874.8 925.8,872.9 927.2,871.0 928.9,868.6 930.3,866.7 931.6,864.9 932.9,863.1 934.2,861.3 935.5,859.6 936.7,857.9 936.7,857.9 938.0,856.5 939.4,855.8 941.0,855.6 942.7,856.1 944.6,857.1 946.5,858.8 948.5,860.7 950.2,862.3 951.8,864.0 953.2,865.8 954.6,867.6 956.0,869.5 957.2,871.5 961.9,879.3 963.1,881.3 964.3,883.3 965.5,885.3 966.8,887.3 968.0,889.2 969.3,891.2 975.6,901.2 976.9,903.2 978.1,905.1 979.4,907.1 980.6,909.1 981.9,911.1 983.1,913.0 985.6,917.1 986.9,919.0 988.2,920.9 989.5,922.8 990.9,924.7 992.4,926.5 993.9,928.3 998.6,933.6 1000.2,935.3 1001.8,936.9 1003.6,938.4 1005.4,939.8 1007.3,941.1 1009.3,942.3 1012.9,944.4 1014.9,945.5 1016.9,946.7 1018.9,947.9 1020.9,949.1 1022.9,950.3 1024.9,951.6 1033.8,957.3 1034.5,957.7 1035.2,958.0 1036.0,958.2 1036.7,958.3 1037.5,958.2 1038.3,958.1 1051.9,954.6 1054.2,954.0 1056.4,953.4 1058.7,952.8 1061.0,952.2 1063.2,951.7 1065.5,951.1 1074.3,948.9 1076.9,948.3 1079.4,948.1 1081.8,948.1 1084.0,948.4 1086.1,948.9 1088.0,949.8 1091.3,951.6 1092.0,952.0 1092.8,952.3 1093.6,952.5 1094.4,952.6 1095.2,952.7 1096.0,952.7 1098.0,952.6 1099.5,952.6 1101.0,952.8 1102.7,953.2 1104.3,953.8 1106.1,954.6 1107.8,955.5 1111.1,957.4 1111.9,957.8 1112.6,958.0 1113.3,958.0 1113.9,957.9 1114.6,957.6 1115.3,957.2 1120.6,953.1 1122.4,951.6 1124.1,950.0 1125.5,948.4 1126.9,946.6 1128.1,944.8 1129.2,942.8 1129.2,942.8 1130.1,940.9 1131.0,939.2 1131.9,937.5 1132.7,936.0 1133.4,934.7 1134.1,933.5 1134.1,933.5 1134.9,932.5 1135.9,932.0 1137.1,932.0 1138.5,932.4 1140.2,933.2 1142.0,934.5 1142.4,934.7 1144.3,936.1 1146.1,937.5 1148.0,938.9 1149.8,940.4 1151.6,941.8 1153.5,943.3 1162.4,950.4 1164.3,951.9 1166.1,953.3 1168.0,954.7 1169.8,956.1 1171.7,957.5 1173.6,958.9 1176.0,960.6 1177.9,961.9 1179.8,963.2 1181.8,964.4 1183.7,965.6 1185.7,966.6 1187.7,967.7 1191.5,969.5 1192.2,969.8 1193.0,970.1 1193.8,970.2 1194.6,970.3 1195.4,970.3 1196.2,970.3 1200.6,969.7 1202.8,969.2 1204.8,968.4 1206.6,967.4 1208.1,966.0 1209.5,964.4 1210.6,962.4 1214.4,955.1 1215.4,953.0 1216.4,950.9 1217.5,948.8 1218.5,946.7 1219.5,944.6 1220.5,942.5 1222.4,938.3 1223.4,936.3 1224.3,934.4 1225.3,932.6 1226.1,931.0 1227.0,929.6 1227.8,928.2 1227.8,928.2 1228.8,927.2 1230.0,926.5 1231.6,926.2 1233.5,926.2 1235.7,926.7 1238.2,927.5 1243.2,929.4 1245.4,930.2 1247.4,931.0 1249.4,931.8 1251.2,932.6 1253.0,933.4 1254.6,934.2 1254.6,934.2 1256.2,935.1 1257.7,936.2 1259.2,937.4 1260.7,938.9 1262.1,940.5 1263.4,942.3 1264.0,943.1 1265.3,945.0 1266.7,946.9 1268.0,948.8 1269.4,950.7 1270.8,952.5 1272.2,954.4 1278.0,962.2 1278.5,962.7 1278.9,963.1 1279.4,963.1 1279.8,963.0 1280.2,962.6 1280.5,961.9 1286.1,949.4 1287.1,947.3 1288.0,945.1 1288.9,942.9 1289.7,940.8 1290.6,938.6 1291.4,936.4 1299.6,913.3 1300.4,911.1 1301.3,908.9 1302.2,906.8 1303.1,904.6 1304.0,902.5 1305.0,900.4 1320.0,868.3 1321.0,866.2 1322.0,864.1 1323.0,862.0 1324.0,859.9 1325.1,857.8 1326.1,855.7 1341.6,824.1 1342.6,822.0 1343.7,819.9 1344.8,817.8 1345.8,815.8 1346.9,813.7 1348.0,811.6 1365.4,779.2 1366.5,777.1 1367.6,775.0 1368.7,773.0 1369.7,770.9 1370.8,768.8 1371.8,766.7 1387.6,735.2 1388.6,733.1 1389.6,731.0 1390.6,728.9 1391.6,726.7 1392.5,724.6 1393.5,722.5 1398.2,711.4 1399.2,709.3 1400.1,707.2 1401.0,705.0 1402.0,702.9 1402.9,700.8 1403.8,698.8 1403.8,698.8 1404.9,696.9 1406.0,695.6 1407.2,694.8 1408.4,694.5 1409.8,694.8 1411.3,695.5 1411.3,695.5 1412.9,696.6 1414.4,697.8 1415.8,699.2 1417.2,700.7 1418.6,702.4 1419.9,704.3 1426.1,713.2 1427.4,715.1 1428.7,717.1 1430.0,719.0 1431.3,721.0 1432.6,722.9 1433.8,724.8 1440.0,734.2 1441.2,736.1 1442.5,738.1 1443.7,740.1 1444.9,742.1 1446.1,744.1 1447.3,746.1 1458.5,765.9 1459.7,767.9 1460.8,770.0 1462.0,772.0 1463.2,774.0 1464.3,776.1 1465.5,778.1 1476.5,797.4 1477.7,799.4 1478.8,801.5 1480.0,803.5 1481.2,805.5 1482.3,807.6 1483.5,809.6 1494.5,828.9 1495.7,830.9 1496.8,833.0 1498.0,835.0 1499.1,837.0 1500.3,839.1 1501.4,841.1 1515.0,865.4 1515.4,866.1 1515.9,866.5 1516.5,866.8 1517.1,866.9 1517.7,866.8 1518.5,866.6 1520.0,865.9 1521.3,865.3 1522.7,864.6 1524.3,863.8 1526.1,863.0 1527.9,862.1 1530.0,861.1 1537.3,857.4 1539.4,856.4 1541.5,855.3 1543.5,854.1 1545.5,852.9 1547.5,851.7 1549.4,850.4 1555.6,846.3 1557.5,844.9 1559.2,843.5 1560.8,841.9 1562.3,840.1 1563.7,838.3 1564.9,836.3 1565.9,834.6 1567.1,832.6 1568.3,830.8 1569.5,829.0 1570.8,827.4 1572.0,825.9 1573.3,824.6 1573.3,824.5 1574.7,823.2 1576.2,821.9 1577.8,820.6 1579.5,819.4 1581.3,818.1 1583.2,816.8 1593.8,810.1 1595.7,808.7 1597.4,807.3 1599.0,805.7 1600.4,803.9 1601.7,802.0 1602.8,800.0 1604.4,796.8 1605.5,794.7 1606.6,792.7 1607.9,790.8 1609.2,788.9 1610.6,787.0 1612.1,785.2 1616.9,779.9 1618.4,778.1 1619.9,776.3 1621.3,774.5 1622.7,772.6 1624.1,770.7 1625.5,768.8 1632.5,758.6 1633.8,756.6 1635.1,754.7 1636.3,752.7 1637.5,750.7 1638.7,748.7 1639.8,746.6 1647.2,733.2 1648.3,731.1 1649.4,729.1 1650.5,727.0 1651.6,725.0 1652.8,722.9 1653.9,720.9 1658.2,713.2 1659.3,711.2 1660.5,709.1 1661.6,707.1 1662.7,705.1 1663.8,703.0 1665.0,701.0 1669.1,693.4 1670.3,691.4 1671.4,689.4 1672.5,687.3 1673.7,685.3 1674.8,683.3 1676.0,681.2 1681.5,671.6 1682.7,669.6 1683.8,667.7 1684.8,665.9 1685.8,664.2 1686.8,662.5 1687.8,661.0 1687.8,661.0 1688.7,659.6 1689.5,658.3 1690.4,657.1 1691.2,656.1 1692.0,655.3 1692.8,654.5 1692.8,654.5 1693.6,654.0 1694.6,653.8 1695.8,653.8 1697.2,654.1 1698.8,654.7 1700.5,655.5 1700.5,655.5 1702.3,656.6 1704.0,657.8 1705.7,659.2 1707.3,660.7 1708.8,662.3 1710.2,664.1 1714.5,669.8 1715.9,671.7 1717.2,673.6 1718.5,675.5 1719.8,677.5 1721.0,679.5 1722.1,681.5 1725.3,687.2 1726.4,689.2 1727.6,691.3 1728.7,693.3 1729.9,695.3 1731.0,697.3 1732.2,699.4 1754.9,738.7 1756.1,740.8 1757.3,742.8 1758.4,744.8 1759.6,746.8 1760.9,748.8 1762.1,750.8 1770.6,764.6 1771.9,766.6 1773.1,768.6 1774.3,770.6 1775.5,772.6 1776.8,774.6 1778.0,776.5 1780.5,780.6 1781.8,782.4 1783.3,784.1 1784.9,785.7 1786.7,787.0 1788.6,788.1 1790.7,789.1 1791.6,789.4 1793.8,790.3 1796.0,791.0 1798.2,791.8 1800.4,792.5 1802.6,793.1 1804.8,793.8 1804.8,793.8 1807.0,794.4 1809.0,795.1 1810.8,795.9 1812.4,796.8 1813.8,797.7 1815.1,798.8 1815.1,798.8 1816.3,800.0 1817.4,801.3 1818.6,802.8 1819.8,804.4 1820.9,806.2 1822.1,808.2 1822.1,808.2 1823.3,810.2 1824.5,812.0 1825.8,813.7 1827.1,815.2 1828.5,816.6 1829.9,817.8 1829.9,817.8 1831.4,818.9 1833.0,820.0 1834.5,820.9 1836.2,821.7 1837.8,822.5 1839.5,823.1 1839.5,823.1 1841.3,823.9 1843.0,824.7 1844.7,825.8 1846.4,827.0 1848.1,828.4 1849.8,829.9 1853.7,833.8 1855.4,835.4 1857.0,837.1 1858.7,838.7 1860.3,840.3 1862.0,842.0 1863.6,843.6 1866.7,846.7 1867.3,847.2 1867.9,847.5 1868.4,847.5 1868.9,847.4 1869.5,847.0 1869.9,846.5 1873.9,840.9 1875.2,839.1 1876.7,837.3 1878.2,835.7 1879.8,834.1 1881.4,832.7 1883.2,831.3 1883.2,831.3 1884.9,830.1 1886.6,829.2 1888.2,828.6 1889.8,828.2 1891.3,828.1 1892.8,828.2 1894.7,828.6 1895.6,828.7 1896.4,828.8 1897.1,828.7 1897.9,828.6 1898.7,828.3 1899.4,828.0 1901.6,827.0 1903.0,826.3 1904.6,825.6 1906.1,825.0 1907.8,824.4 1909.4,823.9 1911.2,823.5 1911.2,823.5 1912.9,823.0 1914.6,822.6 1916.2,822.1 1917.8,821.7 1919.3,821.2 1920.8,820.8 1920.8,820.8 1922.2,820.3 1923.7,819.8 1925.1,819.2 1926.5,818.5 1928.0,817.7 1929.4,816.9 1929.4,816.9 1930.9,816.0 1932.3,815.0 1933.7,814.0 1935.1,812.9 1936.5,811.8 1937.9,810.5 1942.0,806.8" fill="none" stroke="#1d1d1f" stroke-width="12.0" stroke-linejoin="round" stroke-linecap="round"/>
<line x1="148.2" y1="1090" x2="148.2" y2="1165" stroke="#000" stroke-width="8" stroke-linecap="round"/>
<line x1="1941.4" y1="812" x2="1941.4" y2="913.2" stroke="#000" stroke-width="8.2" stroke-linecap="round"/>
<g filter="url(#nf)">
<text transform="translate(148.9,1163.6) skewY(-8) scale(0.72,1)" text-anchor="middle" font-size="23.5" fill="#fff" stroke="#fff" stroke-width="3.6" stroke-linejoin="round">0</text>
<text transform="translate(148.9,1163.6) skewY(-8) scale(0.72,1)" text-anchor="middle" font-size="23.5" fill="#111" stroke="#111" stroke-width="0.5">0</text>
<text transform="translate(280.6,1145.2) skewY(-8) scale(0.72,1)" text-anchor="middle" font-size="23.5" fill="#fff" stroke="#fff" stroke-width="3.6" stroke-linejoin="round">10</text>
<text transform="translate(280.6,1145.2) skewY(-8) scale(0.72,1)" text-anchor="middle" font-size="23.5" fill="#111" stroke="#111" stroke-width="0.5">10</text>
<text transform="translate(411.0,1127.0) skewY(-8) scale(0.72,1)" text-anchor="middle" font-size="23.5" fill="#fff" stroke="#fff" stroke-width="3.6" stroke-linejoin="round">20</text>
<text transform="translate(411.0,1127.0) skewY(-8) scale(0.72,1)" text-anchor="middle" font-size="23.5" fill="#111" stroke="#111" stroke-width="0.5">20</text>
<text transform="translate(541.5,1108.7) skewY(-8) scale(0.72,1)" text-anchor="middle" font-size="23.5" fill="#fff" stroke="#fff" stroke-width="3.6" stroke-linejoin="round">30</text>
<text transform="translate(541.5,1108.7) skewY(-8) scale(0.72,1)" text-anchor="middle" font-size="23.5" fill="#111" stroke="#111" stroke-width="0.5">30</text>
<text transform="translate(673.0,1090.3) skewY(-8) scale(0.72,1)" text-anchor="middle" font-size="23.5" fill="#fff" stroke="#fff" stroke-width="3.6" stroke-linejoin="round">40</text>
<text transform="translate(673.0,1090.3) skewY(-8) scale(0.72,1)" text-anchor="middle" font-size="23.5" fill="#111" stroke="#111" stroke-width="0.5">40</text>
<text transform="translate(802.0,1072.3) skewY(-8) scale(0.72,1)" text-anchor="middle" font-size="23.5" fill="#fff" stroke="#fff" stroke-width="3.6" stroke-linejoin="round">50</text>
<text transform="translate(802.0,1072.3) skewY(-8) scale(0.72,1)" text-anchor="middle" font-size="23.5" fill="#111" stroke="#111" stroke-width="0.5">50</text>
<text transform="translate(936.5,1053.5) skewY(-8) scale(0.72,1)" text-anchor="middle" font-size="23.5" fill="#fff" stroke="#fff" stroke-width="3.6" stroke-linejoin="round">60</text>
<text transform="translate(936.5,1053.5) skewY(-8) scale(0.72,1)" text-anchor="middle" font-size="23.5" fill="#111" stroke="#111" stroke-width="0.5">60</text>
<text transform="translate(1067.0,1035.2) skewY(-8) scale(0.72,1)" text-anchor="middle" font-size="23.5" fill="#fff" stroke="#fff" stroke-width="3.6" stroke-linejoin="round">70</text>
<text transform="translate(1067.0,1035.2) skewY(-8) scale(0.72,1)" text-anchor="middle" font-size="23.5" fill="#111" stroke="#111" stroke-width="0.5">70</text>
<text transform="translate(1198.0,1016.9) skewY(-8) scale(0.72,1)" text-anchor="middle" font-size="23.5" fill="#fff" stroke="#fff" stroke-width="3.6" stroke-linejoin="round">80</text>
<text transform="translate(1198.0,1016.9) skewY(-8) scale(0.72,1)" text-anchor="middle" font-size="23.5" fill="#111" stroke="#111" stroke-width="0.5">80</text>
<text transform="translate(1327.9,998.8) skewY(-8) scale(0.72,1)" text-anchor="middle" font-size="23.5" fill="#fff" stroke="#fff" stroke-width="3.6" stroke-linejoin="round">90</text>
<text transform="translate(1327.9,998.8) skewY(-8) scale(0.72,1)" text-anchor="middle" font-size="23.5" fill="#111" stroke="#111" stroke-width="0.5">90</text>
<text transform="translate(1459.5,980.3) skewY(-8) scale(0.72,1)" text-anchor="middle" font-size="23.5" fill="#fff" stroke="#fff" stroke-width="3.6" stroke-linejoin="round">100</text>
<text transform="translate(1459.5,980.3) skewY(-8) scale(0.72,1)" text-anchor="middle" font-size="23.5" fill="#111" stroke="#111" stroke-width="0.5">100</text>
<text transform="translate(1591.0,962.0) skewY(-8) scale(0.72,1)" text-anchor="middle" font-size="23.5" fill="#fff" stroke="#fff" stroke-width="3.6" stroke-linejoin="round">110</text>
<text transform="translate(1591.0,962.0) skewY(-8) scale(0.72,1)" text-anchor="middle" font-size="23.5" fill="#111" stroke="#111" stroke-width="0.5">110</text>
<text transform="translate(1721.7,943.7) skewY(-8) scale(0.72,1)" text-anchor="middle" font-size="23.5" fill="#fff" stroke="#fff" stroke-width="3.6" stroke-linejoin="round">120</text>
<text transform="translate(1721.7,943.7) skewY(-8) scale(0.72,1)" text-anchor="middle" font-size="23.5" fill="#111" stroke="#111" stroke-width="0.5">120</text>
<text transform="translate(1852.0,923.7) skewY(-8) scale(0.72,1)" text-anchor="middle" font-size="23.5" fill="#fff" stroke="#fff" stroke-width="3.6" stroke-linejoin="round">130</text>
<text transform="translate(1852.0,923.7) skewY(-8) scale(0.72,1)" text-anchor="middle" font-size="23.5" fill="#111" stroke="#111" stroke-width="0.5">130</text>
<text transform="translate(210.8,1155.3) skewY(-8) scale(0.67,1)" text-anchor="middle" font-size="28.8" font-weight="bold" fill="#1d1d1f" stroke="#1d1d1f" stroke-width="0.8">BZ</text>
<text transform="translate(352.0,1135.5) skewY(-8) scale(0.67,1)" text-anchor="middle" font-size="28.8" font-weight="bold" fill="#fff" stroke="#fff" stroke-width="0.8">BL</text>
<text transform="translate(515.7,1112.6) skewY(-8) scale(0.67,1)" text-anchor="middle" font-size="28.8" font-weight="bold" fill="#1d1d1f" stroke="#1d1d1f" stroke-width="0.8">TN</text>
<text transform="translate(758.6,1078.7) skewY(-8) scale(0.67,1)" text-anchor="middle" font-size="28.8" font-weight="bold" fill="#fff" stroke="#fff" stroke-width="0.8">BZ</text>
<text transform="translate(1296.9,1003.4) skewY(-8) scale(0.67,1)" text-anchor="middle" font-size="28.8" font-weight="bold" fill="#1d1d1f" stroke="#1d1d1f" stroke-width="0.8">BL</text>
<text transform="translate(1818.0,928.2) skewY(-8) scale(0.67,1)" text-anchor="middle" font-size="28.8" font-weight="bold" fill="#fff" stroke="#fff" stroke-width="0.8">BZ</text>
</g>
<g font-size="47" font-weight="bold" fill="#1d1d1f" stroke="#1d1d1f" stroke-width="2.2" opacity="0.99">
<text transform="translate(107.2,983.0) rotate(-90)" textLength="92.5" lengthAdjust="spacingAndGlyphs">1436</text>
<text transform="translate(107.2,854.8) rotate(-90)" textLength="174.2" lengthAdjust="spacingAndGlyphs">LA VILLA</text>
<text transform="translate(107.2,647.2) rotate(-90)" textLength="209.8" lengthAdjust="spacingAndGlyphs">PARTENZA</text>
<text transform="translate(1912.2,685.0) rotate(-90)" textLength="93.2" lengthAdjust="spacingAndGlyphs">1530</text>
<text transform="translate(1912.2,557.2) rotate(-90)" textLength="192.0" lengthAdjust="spacingAndGlyphs">CORVARA</text>
<text transform="translate(1912.2,329.4) rotate(-90)" textLength="146.5" lengthAdjust="spacingAndGlyphs">ARRIVO</text>
<rect x="89.8" y="867.6" width="9.4" height="10" stroke="none"/>
<rect x="89.8" y="659.8" width="9.4" height="10" stroke="none"/>
<rect x="1895.2" y="569.8" width="9.4" height="10" stroke="none"/>
<rect x="1895.2" y="344.0" width="9.4" height="10" stroke="none"/>
<text transform="translate(149,1237.4) skewY(-7.97) rotate(-90)" textLength="62" lengthAdjust="spacingAndGlyphs">0.0</text>
<text transform="translate(1956,1033.8) skewY(-7.97) rotate(-90)" textLength="110" lengthAdjust="spacingAndGlyphs">138.0</text>
</g>
<g font-size="33.8" fill="#1d1d1f" stroke="#fff" stroke-width="0.3" text-anchor="end" opacity="0.99">
<text transform="translate(198.0,1169.5) skewY(-7.97) rotate(-90)" textLength="37.0" lengthAdjust="spacingAndGlyphs">3.9</text>
<text transform="translate(274.0,1158.8) skewY(-7.97) rotate(-90)" textLength="37.0" lengthAdjust="spacingAndGlyphs">9.7</text>
<text transform="translate(326.0,1151.6) skewY(-7.97) rotate(-90)" textLength="51.0" lengthAdjust="spacingAndGlyphs">13.7</text>
<text transform="translate(445.3,1134.9) skewY(-7.97) rotate(-90)" textLength="51.0" lengthAdjust="spacingAndGlyphs">22.9</text>
<text transform="translate(528.8,1123.2) skewY(-7.97) rotate(-90)" textLength="51.0" lengthAdjust="spacingAndGlyphs">29.3</text>
<text transform="translate(560.0,1118.8) skewY(-7.97) rotate(-90)" textLength="51.0" lengthAdjust="spacingAndGlyphs">29.9</text>
<text transform="translate(608.0,1112.1) skewY(-7.97) rotate(-90)" textLength="51.0" lengthAdjust="spacingAndGlyphs">34.8</text>
<text transform="translate(671.7,1103.2) skewY(-7.97) rotate(-90)" textLength="51.0" lengthAdjust="spacingAndGlyphs">40.2</text>
<text transform="translate(703.8,1098.7) skewY(-7.97) rotate(-90)" textLength="51.0" lengthAdjust="spacingAndGlyphs">41.3</text>
<text transform="translate(750.0,1092.2) skewY(-7.97) rotate(-90)" textLength="51.0" lengthAdjust="spacingAndGlyphs">46.0</text>
<text transform="translate(871.2,1075.2) skewY(-7.97) rotate(-90)" textLength="51.0" lengthAdjust="spacingAndGlyphs">55.0</text>
<text transform="translate(942.6,1065.2) skewY(-7.97) rotate(-90)" textLength="51.0" lengthAdjust="spacingAndGlyphs">60.9</text>
<text transform="translate(1002.0,1056.9) skewY(-7.97) rotate(-90)" textLength="51.0" lengthAdjust="spacingAndGlyphs">64.8</text>
<text transform="translate(1081.9,1045.7) skewY(-7.97) rotate(-90)" textLength="51.0" lengthAdjust="spacingAndGlyphs">72.1</text>
<text transform="translate(1118.8,1040.6) skewY(-7.97) rotate(-90)" textLength="51.0" lengthAdjust="spacingAndGlyphs">75.1</text>
<text transform="translate(1152.0,1035.9) skewY(-7.97) rotate(-90)" textLength="51.0" lengthAdjust="spacingAndGlyphs">76.3</text>
<text transform="translate(1203.8,1028.7) skewY(-7.97) rotate(-90)" textLength="51.0" lengthAdjust="spacingAndGlyphs">81.2</text>
<text transform="translate(1242.6,1023.2) skewY(-7.97) rotate(-90)" textLength="51.0" lengthAdjust="spacingAndGlyphs">83.5</text>
<text transform="translate(1298.0,1015.5) skewY(-7.97) rotate(-90)" textLength="51.0" lengthAdjust="spacingAndGlyphs">87.2</text>
<text transform="translate(1411.0,999.7) skewY(-7.97) rotate(-90)" textLength="51.0" lengthAdjust="spacingAndGlyphs">97.1</text>
<text transform="translate(1556.4,979.3) skewY(-7.97) rotate(-90)" textLength="65.5" lengthAdjust="spacingAndGlyphs">107.4</text>
<text transform="translate(1679.0,962.1) skewY(-7.97) rotate(-90)" textLength="65.5" lengthAdjust="spacingAndGlyphs">117.7</text>
<text transform="translate(1716.7,956.9) skewY(-7.97) rotate(-90)" textLength="65.5" lengthAdjust="spacingAndGlyphs">118.9</text>
<text transform="translate(1793.8,946.1) skewY(-7.97) rotate(-90)" textLength="65.5" lengthAdjust="spacingAndGlyphs">126.5</text>
<text transform="translate(1840.0,939.6) skewY(-7.97) rotate(-90)" textLength="65.5" lengthAdjust="spacingAndGlyphs">130.2</text>
<text transform="translate(1875.0,934.7) skewY(-7.97) rotate(-90)" textLength="65.5" lengthAdjust="spacingAndGlyphs">133.0</text>
<text transform="translate(1903.8,930.7) skewY(-7.97) rotate(-90)" textLength="65.5" lengthAdjust="spacingAndGlyphs">134.3</text>
</g>
<g stroke="#000" stroke-width="2.9" stroke-dasharray="4.8 4.3" fill="none">
<path d="M281.4,337 V682"/>
<path d="M494,305 V377.5"/>
<path d="M606.8,292 V374"/>
<path d="M672.6,277 C664,320 652,380 640,430 Q636.2,446 636.2,470 V669"/>
<path d="M817.1,270.5 V419.7"/>
<path d="M876.8,265.7 V342"/>
<path d="M942.5,259.4 V597.8"/>
<path d="M1344.8,188 V343.5"/>
<path d="M1492.7,173.5 V561"/>
<path d="M1612,149.7 V217"/>
<path d="M1894.3,150 V173"/>
</g>
<g transform="translate(279.0,301.2)">
<ellipse cx="5.4" cy="-0.8" rx="27" ry="25.6" transform="rotate(-38)" fill="#a9a9ad"/>
<ellipse rx="26" ry="24.8" transform="rotate(-38)" fill="#fff" stroke="#000" stroke-width="4.5"/>
<g transform="rotate(-50.4)" fill="none" stroke-linecap="butt">
<path d="M-11.5,0 H11.5" stroke="#111" stroke-width="4"/>
<path transform="translate(16.0,0) rotate(14)" d="M3.20,-2.88 A4.30,4.30 0 1 0 3.20,2.88" stroke="#111" stroke-width="4.2"/>
<path transform="translate(-16.0,0) rotate(194)" d="M3.20,-2.88 A4.30,4.30 0 1 0 3.20,2.88" stroke="#111" stroke-width="4.2"/>
<path d="M-12.5,0 H12.5" stroke="#fff" stroke-width="1.9"/>
<path transform="translate(16.0,0) rotate(14)" d="M3.20,-2.88 A4.30,4.30 0 1 0 3.20,2.88" stroke="#fff" stroke-width="2"/>
<path transform="translate(16.0,0) rotate(14)" d="M1.63,-1.47 L4.76,-4.28 M1.63,1.47 L4.76,4.28 " stroke="#111" stroke-width="1.1"/>
<path transform="translate(-16.0,0) rotate(194)" d="M3.20,-2.88 A4.30,4.30 0 1 0 3.20,2.88" stroke="#fff" stroke-width="2"/>
<path transform="translate(-16.0,0) rotate(194)" d="M1.63,-1.47 L4.76,-4.28 M1.63,1.47 L4.76,4.28 " stroke="#111" stroke-width="1.1"/>
</g>
</g>
<g transform="translate(492.8,271.9)">
<ellipse cx="5.4" cy="-0.8" rx="27" ry="25.6" transform="rotate(-38)" fill="#a9a9ad"/>
<ellipse rx="26" ry="24.8" transform="rotate(-38)" fill="#fff" stroke="#000" stroke-width="4.5"/>
<circle cx="0.5" cy="1.8" r="11.4" fill="none" stroke="#111" stroke-width="1.5"/>
<path d="M-14,-8 V15.5" stroke="#111" stroke-width="1.8" fill="none"/>
<path d="M-16.3,-8.5 V-3.5 Q-16.3,-0.5 -14,-0.5 Q-11.7,-0.5 -11.7,-3.5 V-8.5" stroke="#111" stroke-width="1" fill="none"/>
<path d="M15.2,-12 Q17.4,-4 16.4,12 H14.6 Q13.6,-4 15.2,-12 Z" fill="#111"/>
</g>
<g transform="translate(608.9,258.3)">
<ellipse cx="5.4" cy="-0.8" rx="27" ry="25.6" transform="rotate(-38)" fill="#a9a9ad"/>
<ellipse rx="26" ry="24.8" transform="rotate(-38)" fill="#fff" stroke="#000" stroke-width="4.5"/>
<g transform="rotate(-50.4)" fill="none" stroke-linecap="butt">
<path d="M-11.5,0 H11.5" stroke="#111" stroke-width="4"/>
<path transform="translate(16.0,0) rotate(14)" d="M3.20,-2.88 A4.30,4.30 0 1 0 3.20,2.88" stroke="#111" stroke-width="4.2"/>
<path transform="translate(-16.0,0) rotate(194)" d="M3.20,-2.88 A4.30,4.30 0 1 0 3.20,2.88" stroke="#111" stroke-width="4.2"/>
<path d="M-12.5,0 H12.5" stroke="#fff" stroke-width="1.9"/>
<path transform="translate(16.0,0) rotate(14)" d="M3.20,-2.88 A4.30,4.30 0 1 0 3.20,2.88" stroke="#fff" stroke-width="2"/>
<path transform="translate(16.0,0) rotate(14)" d="M1.63,-1.47 L4.76,-4.28 M1.63,1.47 L4.76,4.28 " stroke="#111" stroke-width="1.1"/>
<path transform="translate(-16.0,0) rotate(194)" d="M3.20,-2.88 A4.30,4.30 0 1 0 3.20,2.88" stroke="#fff" stroke-width="2"/>
<path transform="translate(-16.0,0) rotate(194)" d="M1.63,-1.47 L4.76,-4.28 M1.63,1.47 L4.76,4.28 " stroke="#111" stroke-width="1.1"/>
</g>
</g>
<g transform="translate(670.9,245.9)">
<ellipse cx="5.4" cy="-0.8" rx="27" ry="25.6" transform="rotate(-38)" fill="#a9a9ad"/>
<ellipse rx="26" ry="24.8" transform="rotate(-38)" fill="#fff" stroke="#000" stroke-width="4.5"/>
<circle cx="0.5" cy="1.8" r="11.4" fill="none" stroke="#111" stroke-width="1.5"/>
<path d="M-14,-8 V15.5" stroke="#111" stroke-width="1.8" fill="none"/>
<path d="M-16.3,-8.5 V-3.5 Q-16.3,-0.5 -14,-0.5 Q-11.7,-0.5 -11.7,-3.5 V-8.5" stroke="#111" stroke-width="1" fill="none"/>
<path d="M15.2,-12 Q17.4,-4 16.4,12 H14.6 Q13.6,-4 15.2,-12 Z" fill="#111"/>
</g>
<g transform="translate(812.4,230.8)">
<ellipse cx="5.4" cy="-0.8" rx="27" ry="25.6" transform="rotate(-38)" fill="#a9a9ad"/>
<ellipse rx="26" ry="24.8" transform="rotate(-38)" fill="#fff" stroke="#000" stroke-width="4.5"/>
<g transform="rotate(-50.4)" fill="none" stroke-linecap="butt">
<path d="M-11.5,0 H11.5" stroke="#111" stroke-width="4"/>
<path transform="translate(16.0,0) rotate(14)" d="M3.20,-2.88 A4.30,4.30 0 1 0 3.20,2.88" stroke="#111" stroke-width="4.2"/>
<path transform="translate(-16.0,0) rotate(194)" d="M3.20,-2.88 A4.30,4.30 0 1 0 3.20,2.88" stroke="#111" stroke-width="4.2"/>
<path d="M-12.5,0 H12.5" stroke="#fff" stroke-width="1.9"/>
<path transform="translate(16.0,0) rotate(14)" d="M3.20,-2.88 A4.30,4.30 0 1 0 3.20,2.88" stroke="#fff" stroke-width="2"/>
<path transform="translate(16.0,0) rotate(14)" d="M1.63,-1.47 L4.76,-4.28 M1.63,1.47 L4.76,4.28 " stroke="#111" stroke-width="1.1"/>
<path transform="translate(-16.0,0) rotate(194)" d="M3.20,-2.88 A4.30,4.30 0 1 0 3.20,2.88" stroke="#fff" stroke-width="2"/>
<path transform="translate(-16.0,0) rotate(194)" d="M1.63,-1.47 L4.76,-4.28 M1.63,1.47 L4.76,4.28 " stroke="#111" stroke-width="1.1"/>
</g>
</g>
<g transform="translate(875.9,216.5)">
<ellipse cx="5.4" cy="-0.8" rx="27" ry="25.6" transform="rotate(-38)" fill="#a9a9ad"/>
<ellipse rx="26" ry="24.8" transform="rotate(-38)" fill="#fff" stroke="#000" stroke-width="4.5"/>
<circle cx="0.5" cy="1.8" r="11.4" fill="none" stroke="#111" stroke-width="1.5"/>
<path d="M-14,-8 V15.5" stroke="#111" stroke-width="1.8" fill="none"/>
<path d="M-16.3,-8.5 V-3.5 Q-16.3,-0.5 -14,-0.5 Q-11.7,-0.5 -11.7,-3.5 V-8.5" stroke="#111" stroke-width="1" fill="none"/>
<path d="M15.2,-12 Q17.4,-4 16.4,12 H14.6 Q13.6,-4 15.2,-12 Z" fill="#111"/>
</g>
<g transform="translate(940.3,210.2)">
<ellipse cx="5.4" cy="-0.8" rx="27" ry="25.6" transform="rotate(-38)" fill="#a9a9ad"/>
<ellipse rx="26" ry="24.8" transform="rotate(-38)" fill="#fff" stroke="#000" stroke-width="4.5"/>
<g transform="rotate(-50.4)" fill="none" stroke-linecap="butt">
<path d="M-11.5,0 H11.5" stroke="#111" stroke-width="4"/>
<path transform="translate(16.0,0) rotate(14)" d="M3.20,-2.88 A4.30,4.30 0 1 0 3.20,2.88" stroke="#111" stroke-width="4.2"/>
<path transform="translate(-16.0,0) rotate(194)" d="M3.20,-2.88 A4.30,4.30 0 1 0 3.20,2.88" stroke="#111" stroke-width="4.2"/>
<path d="M-12.5,0 H12.5" stroke="#fff" stroke-width="1.9"/>
<path transform="translate(16.0,0) rotate(14)" d="M3.20,-2.88 A4.30,4.30 0 1 0 3.20,2.88" stroke="#fff" stroke-width="2"/>
<path transform="translate(16.0,0) rotate(14)" d="M1.63,-1.47 L4.76,-4.28 M1.63,1.47 L4.76,4.28 " stroke="#111" stroke-width="1.1"/>
<path transform="translate(-16.0,0) rotate(194)" d="M3.20,-2.88 A4.30,4.30 0 1 0 3.20,2.88" stroke="#fff" stroke-width="2"/>
<path transform="translate(-16.0,0) rotate(194)" d="M1.63,-1.47 L4.76,-4.28 M1.63,1.47 L4.76,4.28 " stroke="#111" stroke-width="1.1"/>
</g>
</g>
<g transform="translate(1172.9,176.6)">
<ellipse cx="5.4" cy="-0.8" rx="27" ry="25.6" transform="rotate(-38)" fill="#a9a9ad"/>
<ellipse rx="26" ry="24.8" transform="rotate(-38)" fill="#fff" stroke="#000" stroke-width="4.5"/>
<circle cx="0.5" cy="1.8" r="11.4" fill="none" stroke="#111" stroke-width="1.5"/>
<path d="M-14,-8 V15.5" stroke="#111" stroke-width="1.8" fill="none"/>
<path d="M-16.3,-8.5 V-3.5 Q-16.3,-0.5 -14,-0.5 Q-11.7,-0.5 -11.7,-3.5 V-8.5" stroke="#111" stroke-width="1" fill="none"/>
<path d="M15.2,-12 Q17.4,-4 16.4,12 H14.6 Q13.6,-4 15.2,-12 Z" fill="#111"/>
</g>
<g transform="translate(1173.1,242.1)">
<ellipse cx="5.4" cy="-0.8" rx="27" ry="25.6" transform="rotate(-38)" fill="#a9a9ad"/>
<ellipse rx="26" ry="24.8" transform="rotate(-38)" fill="#fff" stroke="#000" stroke-width="4.5"/>
<g transform="rotate(-50.4)" fill="none" stroke-linecap="butt">
<path d="M-11.5,0 H11.5" stroke="#111" stroke-width="4"/>
<path transform="translate(16.0,0) rotate(14)" d="M3.20,-2.88 A4.30,4.30 0 1 0 3.20,2.88" stroke="#111" stroke-width="4.2"/>
<path transform="translate(-16.0,0) rotate(194)" d="M3.20,-2.88 A4.30,4.30 0 1 0 3.20,2.88" stroke="#111" stroke-width="4.2"/>
<path d="M-12.5,0 H12.5" stroke="#fff" stroke-width="1.9"/>
<path transform="translate(16.0,0) rotate(14)" d="M3.20,-2.88 A4.30,4.30 0 1 0 3.20,2.88" stroke="#fff" stroke-width="2"/>
<path transform="translate(16.0,0) rotate(14)" d="M1.63,-1.47 L4.76,-4.28 M1.63,1.47 L4.76,4.28 " stroke="#111" stroke-width="1.1"/>
<path transform="translate(-16.0,0) rotate(194)" d="M3.20,-2.88 A4.30,4.30 0 1 0 3.20,2.88" stroke="#fff" stroke-width="2"/>
<path transform="translate(-16.0,0) rotate(194)" d="M1.63,-1.47 L4.76,-4.28 M1.63,1.47 L4.76,4.28 " stroke="#111" stroke-width="1.1"/>
</g>
</g>
<g transform="translate(1344.1,152.4)">
<ellipse cx="5.4" cy="-0.8" rx="27" ry="25.6" transform="rotate(-38)" fill="#a9a9ad"/>
<ellipse rx="26" ry="24.8" transform="rotate(-38)" fill="#fff" stroke="#000" stroke-width="4.5"/>
<circle cx="0.5" cy="1.8" r="11.4" fill="none" stroke="#111" stroke-width="1.5"/>
<path d="M-14,-8 V15.5" stroke="#111" stroke-width="1.8" fill="none"/>
<path d="M-16.3,-8.5 V-3.5 Q-16.3,-0.5 -14,-0.5 Q-11.7,-0.5 -11.7,-3.5 V-8.5" stroke="#111" stroke-width="1" fill="none"/>
<path d="M15.2,-12 Q17.4,-4 16.4,12 H14.6 Q13.6,-4 15.2,-12 Z" fill="#111"/>
</g>
<g transform="translate(1493.0,132.2)">
<ellipse cx="5.4" cy="-0.8" rx="27" ry="25.6" transform="rotate(-38)" fill="#a9a9ad"/>
<ellipse rx="26" ry="24.8" transform="rotate(-38)" fill="#fff" stroke="#000" stroke-width="4.5"/>
<g transform="rotate(-50.4)" fill="none" stroke-linecap="butt">
<path d="M-11.5,0 H11.5" stroke="#111" stroke-width="4"/>
<path transform="translate(16.0,0) rotate(14)" d="M3.20,-2.88 A4.30,4.30 0 1 0 3.20,2.88" stroke="#111" stroke-width="4.2"/>
<path transform="translate(-16.0,0) rotate(194)" d="M3.20,-2.88 A4.30,4.30 0 1 0 3.20,2.88" stroke="#111" stroke-width="4.2"/>
<path d="M-12.5,0 H12.5" stroke="#fff" stroke-width="1.9"/>
<path transform="translate(16.0,0) rotate(14)" d="M3.20,-2.88 A4.30,4.30 0 1 0 3.20,2.88" stroke="#fff" stroke-width="2"/>
<path transform="translate(16.0,0) rotate(14)" d="M1.63,-1.47 L4.76,-4.28 M1.63,1.47 L4.76,4.28 " stroke="#111" stroke-width="1.1"/>
<path transform="translate(-16.0,0) rotate(194)" d="M3.20,-2.88 A4.30,4.30 0 1 0 3.20,2.88" stroke="#fff" stroke-width="2"/>
<path transform="translate(-16.0,0) rotate(194)" d="M1.63,-1.47 L4.76,-4.28 M1.63,1.47 L4.76,4.28 " stroke="#111" stroke-width="1.1"/>
</g>
</g>
<g transform="translate(1612.0,115.6)">
<ellipse cx="5.4" cy="-0.8" rx="27" ry="25.6" transform="rotate(-38)" fill="#a9a9ad"/>
<ellipse rx="26" ry="24.8" transform="rotate(-38)" fill="#fff" stroke="#000" stroke-width="4.5"/>
<circle cx="0.5" cy="1.8" r="11.4" fill="none" stroke="#111" stroke-width="1.5"/>
<path d="M-14,-8 V15.5" stroke="#111" stroke-width="1.8" fill="none"/>
<path d="M-16.3,-8.5 V-3.5 Q-16.3,-0.5 -14,-0.5 Q-11.7,-0.5 -11.7,-3.5 V-8.5" stroke="#111" stroke-width="1" fill="none"/>
<path d="M15.2,-12 Q17.4,-4 16.4,12 H14.6 Q13.6,-4 15.2,-12 Z" fill="#111"/>
</g>
<g transform="translate(1893.7,76.7)">
<ellipse cx="5.4" cy="-0.8" rx="27" ry="25.6" transform="rotate(-38)" fill="#a9a9ad"/>
<ellipse rx="26" ry="24.8" transform="rotate(-38)" fill="#fff" stroke="#000" stroke-width="4.5"/>
<circle cx="0.5" cy="1.8" r="11.4" fill="none" stroke="#111" stroke-width="1.5"/>
<path d="M-14,-8 V15.5" stroke="#111" stroke-width="1.8" fill="none"/>
<path d="M-16.3,-8.5 V-3.5 Q-16.3,-0.5 -14,-0.5 Q-11.7,-0.5 -11.7,-3.5 V-8.5" stroke="#111" stroke-width="1" fill="none"/>
<path d="M15.2,-12 Q17.4,-4 16.4,12 H14.6 Q13.6,-4 15.2,-12 Z" fill="#111"/>
</g>
<g transform="translate(1893.7,136.0)">
<ellipse cx="5.4" cy="-0.8" rx="27" ry="25.6" transform="rotate(-38)" fill="#a9a9ad"/>
<ellipse rx="26" ry="24.8" transform="rotate(-38)" fill="#fff" stroke="#000" stroke-width="4.5"/>
<g transform="rotate(-50.4)" fill="none" stroke-linecap="butt">
<path d="M-11.5,0 H11.5" stroke="#111" stroke-width="4"/>
<path transform="translate(16.0,0) rotate(14)" d="M3.20,-2.88 A4.30,4.30 0 1 0 3.20,2.88" stroke="#111" stroke-width="4.2"/>
<path transform="translate(-16.0,0) rotate(194)" d="M3.20,-2.88 A4.30,4.30 0 1 0 3.20,2.88" stroke="#111" stroke-width="4.2"/>
<path d="M-12.5,0 H12.5" stroke="#fff" stroke-width="1.9"/>
<path transform="translate(16.0,0) rotate(14)" d="M3.20,-2.88 A4.30,4.30 0 1 0 3.20,2.88" stroke="#fff" stroke-width="2"/>
<path transform="translate(16.0,0) rotate(14)" d="M1.63,-1.47 L4.76,-4.28 M1.63,1.47 L4.76,4.28 " stroke="#111" stroke-width="1.1"/>
<path transform="translate(-16.0,0) rotate(194)" d="M3.20,-2.88 A4.30,4.30 0 1 0 3.20,2.88" stroke="#fff" stroke-width="2"/>
<path transform="translate(-16.0,0) rotate(194)" d="M1.63,-1.47 L4.76,-4.28 M1.63,1.47 L4.76,4.28 " stroke="#111" stroke-width="1.1"/>
</g>
</g>
<g fill="none" stroke="#1d1d1f" stroke-width="3.8" stroke-linecap="round" stroke-linejoin="round">
<path d="M1958.9,807.2 C1955,816 1955.5,829 1960,831.1 C1964.4,829 1966,812 1970,806.7 C1974,808 1976,826 1968.9,833.3"/>
<path d="M1968.3,836.7 L1955,857.2 L1974.4,853.3 Q1975,845 1968.3,836.7 Z"/>
<path d="M1956.7,866.7 C1954.5,877 1956,886 1960,888.3 C1964.5,885 1964,868 1970,865.6 C1975,868 1975,884 1968.3,890.6"/>
</g>
</svg>
</body></html>
